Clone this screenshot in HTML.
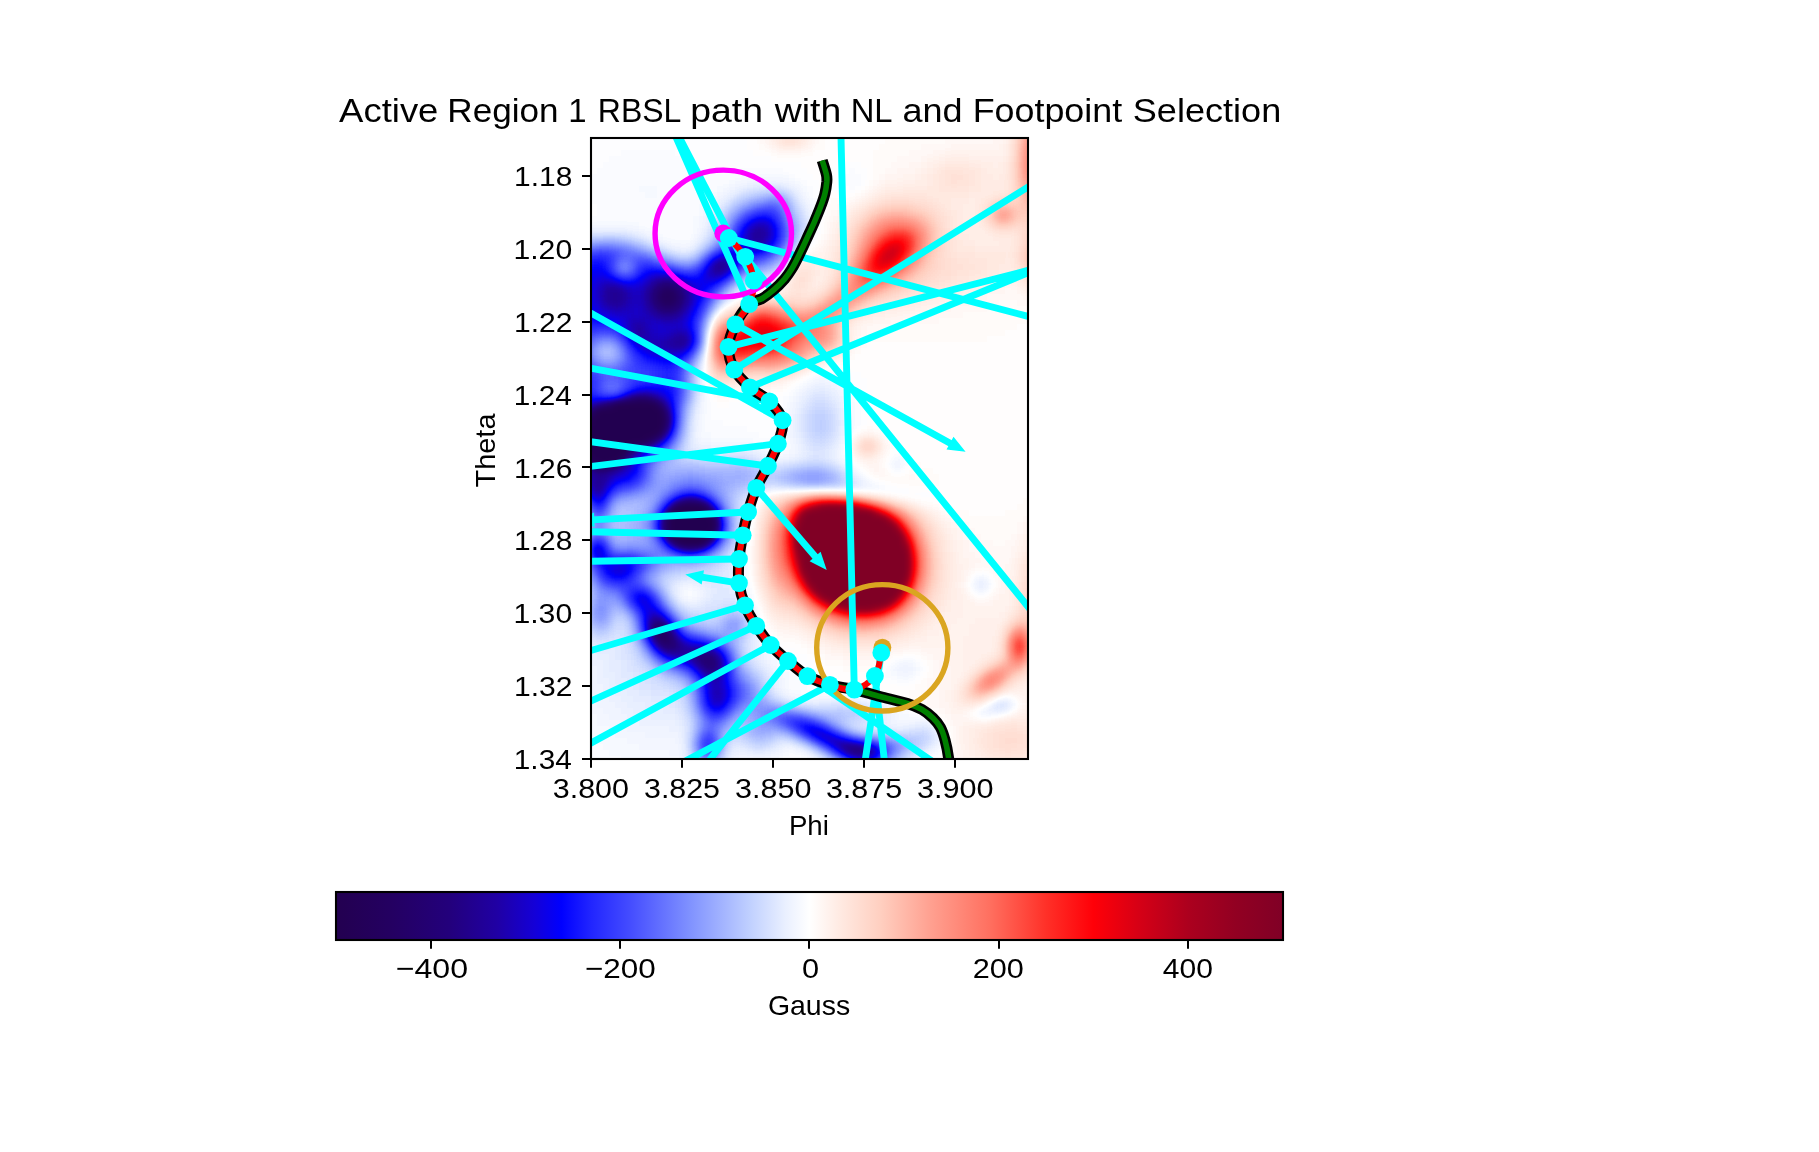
<!DOCTYPE html>
<html><head><meta charset="utf-8"><title>Active Region 1 RBSL path</title>
<style>html,body{margin:0;padding:0;background:#fff}svg{display:block;will-change:transform}text{font-family:"Liberation Sans",sans-serif;fill:#000}</style>
</head><body>
<svg width="1819" height="1152" viewBox="0 0 1819 1152">
<defs>
<clipPath id="ax"><rect x="591" y="138" width="437" height="621"/></clipPath>
<filter id="cm" filterUnits="userSpaceOnUse" x="579" y="126" width="462" height="648" color-interpolation-filters="sRGB">
<feGaussianBlur stdDeviation="3.2"/>
<feComponentTransfer>
<feFuncR type="table" tableValues="0.137 0.138 0.139 0.139 0.140 0.141 0.141 0.141 0.140 0.139 0.139 0.138 0.137 0.135 0.133 0.130 0.128 0.125 0.114 0.102 0.090 0.078 0.050 0.022 0.008 0.050 0.092 0.133 0.167 0.200 0.233 0.267 0.303 0.340 0.377 0.414 0.450 0.487 0.526 0.566 0.606 0.645 0.685 0.725 0.766 0.809 0.853 0.896 0.934 0.967 1.000 1.000 1.000 1.000 1.000 1.000 1.000 1.000 1.000 1.000 1.000 1.000 1.000 1.000 1.000 1.000 1.000 1.000 1.000 1.000 1.000 1.000 1.000 1.000 1.000 1.000 1.000 1.000 1.000 1.000 1.000 0.966 0.933 0.899 0.865 0.831 0.800 0.769 0.737 0.706 0.675 0.654 0.634 0.613 0.593 0.573 0.558 0.544 0.530 0.516 0.502"/>
<feFuncG type="table" tableValues="0.000 0.000 0.000 0.000 0.000 0.000 0.000 0.000 0.000 0.000 0.000 0.000 0.000 0.000 0.000 0.000 0.000 0.000 0.000 0.000 0.000 0.000 0.000 0.000 0.009 0.056 0.102 0.149 0.186 0.224 0.261 0.298 0.341 0.384 0.427 0.470 0.512 0.555 0.596 0.634 0.673 0.711 0.750 0.789 0.826 0.859 0.892 0.925 0.953 0.976 1.000 0.974 0.949 0.923 0.898 0.873 0.849 0.824 0.794 0.760 0.725 0.690 0.655 0.621 0.591 0.561 0.530 0.500 0.470 0.439 0.397 0.356 0.314 0.272 0.230 0.188 0.151 0.113 0.075 0.038 0.000 0.000 0.000 0.000 0.000 0.000 0.000 0.000 0.000 0.000 0.000 0.000 0.000 0.000 0.000 0.000 0.000 0.000 0.000 0.000 0.000"/>
<feFuncB type="table" tableValues="0.314 0.325 0.337 0.349 0.361 0.373 0.384 0.401 0.418 0.435 0.452 0.469 0.486 0.518 0.549 0.580 0.612 0.643 0.694 0.745 0.796 0.847 0.902 0.956 1.000 1.000 1.000 1.000 1.000 1.000 1.000 1.000 1.000 1.000 1.000 1.000 1.000 1.000 1.000 1.000 1.000 1.000 1.000 1.000 1.000 1.000 1.000 1.000 1.000 1.000 1.000 0.964 0.929 0.893 0.861 0.830 0.799 0.768 0.735 0.700 0.664 0.629 0.593 0.559 0.528 0.498 0.468 0.437 0.407 0.376 0.340 0.303 0.267 0.230 0.193 0.157 0.132 0.107 0.082 0.056 0.031 0.042 0.053 0.064 0.075 0.086 0.093 0.099 0.105 0.111 0.118 0.121 0.124 0.127 0.130 0.133 0.136 0.140 0.143 0.146 0.149"/>
<feFuncA type="linear" slope="100" intercept="0"/>
</feComponentTransfer>
</filter>
<linearGradient id="cb" x1="0" x2="1" y1="0" y2="0"><stop offset="0.0000" stop-color="#230050"/><stop offset="0.0600" stop-color="#240062"/><stop offset="0.1200" stop-color="#23007c"/><stop offset="0.1700" stop-color="#2000a4"/><stop offset="0.2100" stop-color="#1400d8"/><stop offset="0.2380" stop-color="#0000ff"/><stop offset="0.2700" stop-color="#2226ff"/><stop offset="0.3100" stop-color="#444cff"/><stop offset="0.3740" stop-color="#8092ff"/><stop offset="0.4370" stop-color="#c0d0ff"/><stop offset="0.4750" stop-color="#eaf0ff"/><stop offset="0.5000" stop-color="#ffffff"/><stop offset="0.5320" stop-color="#ffeae2"/><stop offset="0.5750" stop-color="#ffcfc0"/><stop offset="0.6280" stop-color="#ffa090"/><stop offset="0.6900" stop-color="#ff7060"/><stop offset="0.7500" stop-color="#ff3028"/><stop offset="0.8000" stop-color="#ff0008"/><stop offset="0.8500" stop-color="#d40016"/><stop offset="0.9000" stop-color="#ac001e"/><stop offset="0.9500" stop-color="#920022"/><stop offset="1.0000" stop-color="#800026"/></linearGradient>
</defs>
<rect width="1819" height="1152" fill="#fff"/>
<g clip-path="url(#ax)">
<g filter="url(#cm)">
<rect x="579" y="126" width="462" height="648" fill="rgb(128,128,128)"/>
<path fill="rgb(0,0,0)" d="M621 402h36v6h-36zM597 408h66v6h-66zM591 414h72v6h-72zM591 420h72v6h-72zM591 426h72v6h-72zM591 432h66v6h-66zM585 438h60v6h-60zM585 444h42v6h-42zM585 450h36v6h-36zM591 456h30v6h-30zM681 504h24v6h-24zM669 510h42v6h-42zM669 516h42v6h-42zM669 522h48v6h-48zM669 528h42v6h-42zM675 534h36v6h-36zM681 540h18v6h-18z"/>
<path fill="rgb(1,1,1)" d="M615 402h6v6h-6zM699 540h6v6h-6z"/>
<path fill="rgb(2,2,2)" d="M585 432h6v6h-6zM621 450h6v6h-6zM603 462h6v6h-6zM669 534h6v6h-6z"/>
<path fill="rgb(3,3,3)" d="M585 426h6v6h-6zM597 462h6v6h-6z"/>
<path fill="rgb(5,5,5)" d="M675 504h6v6h-6z"/>
<path fill="rgb(7,7,7)" d="M585 420h6v6h-6zM627 444h6v6h-6z"/>
<path fill="rgb(8,8,8)" d="M645 438h6v6h-6zM711 516h6v6h-6zM711 528h6v6h-6z"/>
<path fill="rgb(9,9,9)" d="M663 294h6v6h-6zM675 540h6v6h-6z"/>
<path fill="rgb(10,10,10)" d="M669 294h6v6h-6z"/>
<path fill="rgb(11,11,11)" d="M585 456h6v6h-6zM609 462h6v6h-6z"/>
<path fill="rgb(12,12,12)" d="M657 630h6v6h-6z"/>
<path fill="rgb(13,13,13)" d="M663 288h6v6h-6zM663 300h6v6h-6zM609 402h6v6h-6zM663 636h6v6h-6z"/>
<path fill="rgb(14,14,14)" d="M669 300h6v6h-6z"/>
<path fill="rgb(15,15,15)" d="M669 288h6v6h-6zM663 420h6v6h-6zM657 432h6v6h-6zM591 462h6v6h-6zM663 522h6v6h-6z"/>
<path fill="rgb(16,16,16)" d="M657 294h6v6h-6zM591 408h6v6h-6zM663 414h6v6h-6zM663 630h6v6h-6z"/>
<path fill="rgb(17,17,17)" d="M639 396h6v6h-6zM657 636h6v6h-6z"/>
<path fill="rgb(18,18,18)" d="M657 624h6v6h-6z"/>
<path fill="rgb(19,19,19)" d="M657 300h6v6h-6z"/>
<path fill="rgb(20,20,20)" d="M657 288h6v6h-6zM675 294h6v6h-6zM633 396h6v6h-6zM657 402h6v6h-6zM585 414h6v6h-6z"/>
<path fill="rgb(21,21,21)" d="M621 456h6v6h-6zM663 642h6v6h-6z"/>
<path fill="rgb(22,22,22)" d="M645 396h6v6h-6zM663 516h6v6h-6zM663 528h6v6h-6z"/>
<path fill="rgb(23,23,23)" d="M675 300h6v6h-6zM633 444h6v6h-6zM669 642h6v6h-6zM705 660h6v6h-6z"/>
<path fill="rgb(24,24,24)" d="M675 288h6v6h-6zM663 306h6v6h-6zM603 402h6v6h-6zM669 636h6v6h-6z"/>
<path fill="rgb(25,25,25)" d="M663 282h6v6h-6zM669 306h6v6h-6zM651 438h6v6h-6zM615 462h6v6h-6zM705 504h6v6h-6zM705 654h6v6h-6z"/>
<path fill="rgb(26,26,26)" d="M663 426h6v6h-6zM687 498h6v6h-6zM651 624h6v6h-6zM711 660h6v6h-6z"/>
<path fill="rgb(27,27,27)" d="M669 282h6v6h-6zM663 408h6v6h-6zM579 444h6v6h-6zM651 630h6v6h-6zM699 654h6v6h-6z"/>
<path fill="rgb(28,28,28)" d="M651 294h6v6h-6zM627 450h6v6h-6z"/>
<path fill="rgb(29,29,29)" d="M657 306h6v6h-6zM627 396h6v6h-6zM579 450h6v6h-6zM597 468h6v6h-6zM693 498h6v6h-6zM711 510h6v6h-6zM705 540h6v6h-6zM663 624h6v6h-6zM855 750h6v6h-6z"/>
<path fill="rgb(30,30,30)" d="M657 282h6v6h-6zM651 288h6v6h-6zM651 300h6v6h-6zM711 534h6v6h-6zM699 660h6v6h-6zM711 666h6v6h-6zM861 750h6v6h-6z"/>
<path fill="rgb(31,31,31)" d="M675 306h6v6h-6zM651 396h6v6h-6zM603 468h6v6h-6zM711 654h6v6h-6zM705 666h6v6h-6z"/>
<path fill="rgb(32,32,32)" d="M681 294h6v6h-6zM579 438h6v6h-6zM681 498h6v6h-6zM657 642h6v6h-6zM849 744h6v6h-6z"/>
<path fill="rgb(33,33,33)" d="M687 546h6v6h-6zM675 642h6v6h-6zM855 744h6v6h-6z"/>
<path fill="rgb(34,34,34)" d="M675 282h6v6h-6zM597 402h6v6h-6zM639 444h6v6h-6zM585 462h6v6h-6zM669 504h6v6h-6zM657 618h6v6h-6zM669 630h6v6h-6zM669 648h6v6h-6zM693 654h6v6h-6zM849 750h6v6h-6z"/>
<path fill="rgb(35,35,35)" d="M681 288h6v6h-6zM681 300h6v6h-6zM591 468h6v6h-6zM651 618h6v6h-6zM843 744h6v6h-6z"/>
<path fill="rgb(36,36,36)" d="M717 264h6v6h-6zM663 312h6v6h-6zM669 540h6v6h-6zM675 648h6v6h-6z"/>
<path fill="rgb(37,37,37)" d="M609 294h12v6h-12zM651 306h6v6h-6zM669 312h6v6h-6zM579 432h6v6h-6zM609 468h6v6h-6zM597 474h6v6h-6zM597 480h6v6h-6zM693 546h6v6h-6zM651 636h6v6h-6zM699 648h6v6h-6z"/>
<path fill="rgb(38,38,38)" d="M651 282h6v6h-6zM609 288h6v6h-6zM585 408h6v6h-6zM579 426h6v6h-6zM621 462h6v6h-6zM693 648h6v6h-6z"/>
<path fill="rgb(39,39,39)" d="M753 234h6v6h-6zM615 288h6v6h-6zM645 294h6v6h-6zM657 312h6v6h-6zM675 336h12v6h-12zM675 342h6v6h-6zM579 456h6v6h-6zM681 546h6v6h-6zM663 648h6v6h-6zM681 648h12v6h-12zM705 648h6v6h-6zM717 660h6v6h-6zM711 672h6v6h-6zM867 750h6v6h-6z"/>
<path fill="rgb(40,40,40)" d="M759 234h6v6h-6zM723 264h6v6h-6zM609 300h12v6h-12zM681 342h6v6h-6zM579 420h6v6h-6zM627 456h6v6h-6zM591 474h6v6h-6zM597 486h6v6h-6zM663 510h6v6h-6zM663 534h6v6h-6zM861 744h6v6h-6z"/>
<path fill="rgb(41,41,41)" d="M753 228h12v6h-12zM663 276h6v6h-6zM645 288h6v6h-6zM603 294h6v6h-6zM621 294h6v6h-6zM645 300h6v6h-6zM681 306h6v6h-6zM675 312h6v6h-6zM621 396h6v6h-6zM663 402h6v6h-6zM603 474h6v6h-6zM591 480h6v6h-6zM699 498h6v6h-6zM687 654h6v6h-6zM693 660h6v6h-6zM699 666h6v6h-6zM717 666h6v6h-6z"/>
<path fill="rgb(42,42,42)" d="M711 264h6v6h-6zM717 270h6v6h-6zM603 288h6v6h-6zM669 342h6v6h-6zM657 396h6v6h-6zM675 636h6v6h-6z"/>
<path fill="rgb(43,43,43)" d="M717 258h12v6h-12zM711 270h6v6h-6zM657 276h6v6h-6zM681 282h6v6h-6zM621 288h6v6h-6zM621 300h6v6h-6zM633 324h12v6h-12zM633 330h12v6h-12zM669 336h6v6h-6zM645 444h6v6h-6zM633 450h6v6h-6zM615 468h6v6h-6zM591 486h6v6h-6zM681 642h6v6h-6zM705 672h6v6h-6z"/>
<path fill="rgb(44,44,44)" d="M753 240h6v6h-6zM669 276h6v6h-6zM687 294h6v6h-6zM603 300h6v6h-6zM645 306h6v6h-6zM651 312h6v6h-6zM663 342h6v6h-6zM591 402h6v6h-6zM663 432h6v6h-6zM657 438h6v6h-6zM837 744h6v6h-6z"/>
<path fill="rgb(45,45,45)" d="M747 234h6v6h-6zM759 240h6v6h-6zM609 282h6v6h-6zM615 306h6v6h-6zM639 336h6v6h-6zM603 480h6v6h-6zM717 672h6v6h-6z"/>
<path fill="rgb(46,46,46)" d="M765 228h6v6h-6zM765 234h6v6h-6zM603 282h6v6h-6zM645 282h6v6h-6zM687 288h6v6h-6zM627 294h6v6h-6zM687 300h6v6h-6zM609 306h6v6h-6zM633 318h6v6h-6zM663 318h12v6h-12zM645 330h6v6h-6zM675 330h12v6h-12zM645 336h6v6h-6zM663 336h6v6h-6zM657 342h6v6h-6zM675 498h6v6h-6zM681 654h6v6h-6zM717 654h6v6h-6zM711 678h6v6h-6zM717 690h6v6h-6z"/>
<path fill="rgb(47,47,47)" d="M759 222h6v6h-6zM747 228h6v6h-6zM747 240h6v6h-6zM651 276h6v6h-6zM597 294h6v6h-6zM639 294h6v6h-6zM627 300h6v6h-6zM621 306h6v6h-6zM645 312h6v6h-6zM639 318h6v6h-6zM651 336h6v6h-6zM651 342h6v6h-6zM579 414h6v6h-6zM585 468h6v6h-6zM597 492h6v6h-6zM717 522h6v6h-6zM651 612h6v6h-6zM711 648h6v6h-6zM711 684h6v6h-6zM711 690h6v6h-6zM717 696h6v6h-6zM831 738h6v6h-6zM843 750h6v6h-6z"/>
<path fill="rgb(48,48,48)" d="M615 282h6v6h-6zM597 288h6v6h-6zM627 288h6v6h-6zM639 288h6v6h-6zM639 300h6v6h-6zM681 312h6v6h-6zM645 318h6v6h-6zM657 318h6v6h-6zM675 318h6v6h-6zM627 324h6v6h-6zM645 324h6v6h-6zM669 330h6v6h-6zM657 336h6v6h-6zM687 336h6v6h-6zM645 342h6v6h-6zM669 348h12v6h-12zM609 474h6v6h-6zM699 546h6v6h-6zM663 618h6v6h-6zM675 654h6v6h-6zM717 678h6v6h-6zM717 684h6v6h-6zM711 696h6v6h-6zM837 738h6v6h-6z"/>
<path fill="rgb(49,49,49)" d="M753 222h6v6h-6zM675 276h6v6h-6zM633 294h6v6h-6zM597 300h6v6h-6zM633 300h6v6h-6zM603 306h6v6h-6zM627 306h6v6h-6zM639 306h6v6h-6zM639 312h6v6h-6zM627 318h6v6h-6zM651 318h6v6h-6zM633 336h6v6h-6zM663 348h6v6h-6zM639 390h12v6h-12zM627 462h6v6h-6zM621 468h6v6h-6zM645 624h6v6h-6zM687 642h6v6h-6zM867 744h6v6h-6z"/>
<path fill="rgb(50,50,50)" d="M723 270h6v6h-6zM597 282h6v6h-6zM633 288h6v6h-6zM633 306h6v6h-6zM627 312h12v6h-12zM675 324h6v6h-6zM651 330h6v6h-6zM657 348h6v6h-6zM645 618h6v6h-6zM819 732h6v6h-6z"/>
<path fill="rgb(51,51,51)" d="M765 222h6v6h-6zM729 258h6v6h-6zM705 270h6v6h-6zM687 282h6v6h-6zM687 306h6v6h-6zM615 312h12v6h-12zM651 324h6v6h-6zM663 324h12v6h-12zM627 330h6v6h-6zM657 330h12v6h-12zM639 342h6v6h-6zM651 390h6v6h-6zM669 414h6v6h-6zM579 462h6v6h-6zM585 474h6v6h-6zM603 486h6v6h-6zM591 492h6v6h-6zM717 516h6v6h-6zM675 546h6v6h-6zM669 624h6v6h-6z"/>
<path fill="rgb(52,52,52)" d="M765 240h6v6h-6zM645 276h6v6h-6zM711 276h6v6h-6zM621 282h6v6h-6zM639 282h6v6h-6zM681 318h6v6h-6zM657 324h6v6h-6zM681 324h6v6h-6zM687 342h6v6h-6zM651 348h6v6h-6zM681 348h6v6h-6zM663 396h6v6h-6zM669 420h6v6h-6zM717 528h6v6h-6zM657 612h6v6h-6zM693 642h6v6h-6zM669 654h6v6h-6zM705 678h6v6h-6zM825 738h6v6h-6zM843 738h6v6h-6zM873 750h6v6h-6z"/>
<path fill="rgb(53,53,53)" d="M753 246h6v6h-6zM711 258h6v6h-6zM729 264h6v6h-6zM597 306h6v6h-6zM609 312h6v6h-6zM621 318h6v6h-6zM687 330h6v6h-6zM633 390h6v6h-6zM615 396h6v6h-6zM633 456h6v6h-6zM615 474h6v6h-6zM585 480h6v6h-6zM657 648h6v6h-6zM687 660h6v6h-6zM711 702h12v6h-12zM825 732h6v6h-6z"/>
<path fill="rgb(54,54,54)" d="M741 234h6v6h-6zM597 276h12v6h-12zM705 276h6v6h-6zM591 288h6v6h-6zM693 288h6v6h-6zM591 294h6v6h-6zM693 294h6v6h-6zM645 348h6v6h-6zM585 402h6v6h-6zM651 444h6v6h-6zM639 450h6v6h-6zM627 468h6v6h-6zM711 504h6v6h-6zM597 546h6v6h-6zM597 552h6v6h-6zM615 564h6v6h-6zM615 570h6v6h-6zM645 612h6v6h-6zM645 630h6v6h-6zM651 642h6v6h-6zM723 690h6v6h-6zM861 756h6v6h-6z"/>
<path fill="rgb(55,55,55)" d="M747 222h6v6h-6zM741 240h6v6h-6zM747 246h6v6h-6zM591 282h6v6h-6zM627 282h12v6h-12zM591 300h6v6h-6zM603 312h6v6h-6zM657 390h6v6h-6zM579 408h6v6h-6zM669 408h6v6h-6zM609 480h6v6h-6zM657 522h6v6h-6zM621 564h6v6h-6zM639 600h6v6h-6zM645 606h6v6h-6zM699 642h6v6h-6zM693 666h6v6h-6zM699 672h6v6h-6zM813 732h6v6h-6z"/>
<path fill="rgb(56,56,56)" d="M771 228h6v6h-6zM759 246h6v6h-6zM723 252h6v6h-6zM705 264h6v6h-6zM681 276h6v6h-6zM693 282h6v6h-6zM693 300h6v6h-6zM687 312h6v6h-6zM621 324h6v6h-6zM663 354h6v6h-6zM621 474h6v6h-6zM609 564h6v6h-6zM621 570h6v6h-6zM639 594h6v6h-6zM645 600h6v6h-6zM723 684h6v6h-6zM723 696h6v6h-6zM807 726h12v6h-12z"/>
<path fill="rgb(57,57,57)" d="M771 234h6v6h-6zM729 252h6v6h-6zM651 270h12v6h-12zM591 276h6v6h-6zM609 276h6v6h-6zM717 276h6v6h-6zM699 282h6v6h-6zM591 306h6v6h-6zM597 312h6v6h-6zM615 318h6v6h-6zM633 342h6v6h-6zM657 354h6v6h-6zM669 354h6v6h-6zM705 498h6v6h-6zM711 540h6v6h-6zM609 570h6v6h-6zM651 606h6v6h-6zM675 630h6v6h-6zM681 636h6v6h-6zM705 684h6v6h-6zM705 690h6v6h-6zM831 744h6v6h-6zM855 756h6v6h-6z"/>
<path fill="rgb(58,58,58)" d="M759 216h6v6h-6zM741 228h6v6h-6zM741 246h6v6h-6zM597 270h6v6h-6zM663 270h6v6h-6zM639 276h6v6h-6zM699 276h6v6h-6zM639 348h6v6h-6zM669 426h6v6h-6zM633 462h6v6h-6zM579 468h6v6h-6zM597 498h6v6h-6zM723 666h6v6h-6zM867 756h6v6h-6z"/>
<path fill="rgb(59,59,59)" d="M591 270h6v6h-6zM705 282h6v6h-6zM699 288h6v6h-6zM687 318h6v6h-6zM687 324h6v6h-6zM627 336h6v6h-6zM651 354h6v6h-6zM675 354h6v6h-6zM663 390h6v6h-6zM669 402h6v6h-6zM585 486h6v6h-6zM657 516h6v6h-6zM657 528h6v6h-6zM591 546h6v6h-6zM627 564h6v6h-6zM705 642h6v6h-6zM723 660h6v6h-6zM723 672h6v6h-6zM723 678h6v6h-6zM705 696h6v6h-6zM849 738h6v6h-6z"/>
<path fill="rgb(60,60,60)" d="M753 216h6v6h-6zM765 216h6v6h-6zM771 222h6v6h-6zM735 252h6v6h-6zM645 270h6v6h-6zM687 276h6v6h-6zM585 282h6v6h-6zM585 288h6v6h-6zM585 294h6v6h-6zM585 300h6v6h-6zM591 312h6v6h-6zM609 318h6v6h-6zM627 390h6v6h-6zM609 396h6v6h-6zM627 474h6v6h-6zM603 492h6v6h-6zM597 558h6v6h-6zM603 564h6v6h-6zM633 594h6v6h-6zM717 648h6v6h-6zM663 654h6v6h-6zM831 732h6v6h-6zM873 744h6v6h-6z"/>
<path fill="rgb(61,61,61)" d="M717 252h6v6h-6zM735 258h6v6h-6zM591 264h12v6h-12zM603 270h6v6h-6zM585 276h6v6h-6zM693 276h6v6h-6zM585 306h6v6h-6zM693 306h6v6h-6zM603 318h6v6h-6zM633 468h6v6h-6zM663 504h6v6h-6zM591 552h6v6h-6zM603 558h6v6h-6zM645 594h6v6h-6zM681 660h6v6h-6zM801 726h6v6h-6z"/>
<path fill="rgb(62,62,62)" d="M735 246h6v6h-6zM585 270h6v6h-6zM669 270h6v6h-6zM699 270h6v6h-6zM699 294h6v6h-6zM597 318h6v6h-6zM621 330h6v6h-6zM645 354h6v6h-6zM591 396h18v6h-18zM669 396h6v6h-6zM579 402h6v6h-6zM579 474h6v6h-6zM615 480h6v6h-6zM687 492h6v6h-6zM591 498h6v6h-6zM669 498h6v6h-6zM663 540h6v6h-6zM639 606h6v6h-6zM723 702h6v6h-6zM819 726h6v6h-6zM819 738h6v6h-6z"/>
<path fill="rgb(63,63,63)" d="M771 240h6v6h-6zM765 246h6v6h-6zM741 252h6v6h-6zM585 312h6v6h-6zM591 318h6v6h-6zM663 360h12v6h-12zM645 384h24v6h-24zM585 396h6v6h-6zM663 438h6v6h-6zM717 510h6v6h-6zM603 552h6v6h-6zM609 558h18v6h-18zM603 570h6v6h-6zM627 570h6v6h-6zM615 576h6v6h-6zM705 702h6v6h-6zM711 708h6v6h-6zM837 750h6v6h-6z"/>
<path fill="rgb(64,64,64)" d="M735 240h6v6h-6zM747 252h6v6h-6zM585 264h6v6h-6zM615 276h6v6h-6zM633 276h6v6h-6zM711 282h6v6h-6zM615 324h6v6h-6zM657 360h6v6h-6zM639 384h6v6h-6zM669 390h6v6h-6zM645 450h6v6h-6zM639 456h6v6h-6zM693 492h6v6h-6zM705 546h6v6h-6zM633 600h6v6h-6zM717 708h6v6h-6zM807 732h6v6h-6z"/>
<path fill="rgb(65,65,65)" d="M741 222h6v6h-6zM591 258h12v6h-12zM603 264h6v6h-6zM639 270h6v6h-6zM729 270h6v6h-6zM579 276h6v6h-6zM579 282h6v6h-6zM579 288h6v6h-6zM579 294h6v6h-6zM579 300h6v6h-6zM585 318h6v6h-6zM687 348h6v6h-6zM621 480h6v6h-6zM609 486h6v6h-6zM681 492h6v6h-6zM717 534h6v6h-6zM597 540h6v6h-6zM627 558h6v6h-6zM609 576h6v6h-6zM621 576h6v6h-6zM651 600h6v6h-6zM645 636h6v6h-6zM801 720h6v6h-6zM849 756h6v6h-6z"/>
<path fill="rgb(66,66,66)" d="M735 234h6v6h-6zM753 252h6v6h-6zM579 270h6v6h-6zM705 288h6v6h-6zM579 306h6v6h-6zM579 312h6v6h-6zM693 312h6v6h-6zM633 348h6v6h-6zM639 354h6v6h-6zM651 360h6v6h-6zM669 384h6v6h-6zM579 396h6v6h-6zM657 444h6v6h-6zM633 474h6v6h-6zM579 480h6v6h-6zM669 546h6v6h-6zM687 636h6v6h-6zM723 654h6v6h-6zM675 660h6v6h-6zM699 678h6v6h-6zM729 690h6v6h-6zM855 738h6v6h-6z"/>
<path fill="rgb(67,67,67)" d="M747 216h6v6h-6zM771 216h6v6h-6zM729 246h6v6h-6zM579 264h6v6h-6zM675 270h6v6h-6zM699 300h6v6h-6zM681 354h6v6h-6zM663 366h6v6h-6zM663 378h6v6h-6zM633 384h6v6h-6zM597 564h6v6h-6zM633 564h6v6h-6zM633 588h6v6h-6zM711 642h6v6h-6zM795 720h6v6h-6zM879 750h6v6h-6z"/>
<path fill="rgb(68,68,68)" d="M585 258h6v6h-6zM603 258h6v6h-6zM645 264h6v6h-6zM735 264h6v6h-6zM723 276h6v6h-6zM579 318h6v6h-6zM609 324h6v6h-6zM693 336h6v6h-6zM627 342h6v6h-6zM645 360h6v6h-6zM675 360h6v6h-6zM669 366h6v6h-6zM669 378h6v6h-6zM579 390h12v6h-12zM627 480h6v6h-6zM597 504h6v6h-6zM591 540h6v6h-6zM639 588h6v6h-6zM657 606h6v6h-6zM663 612h6v6h-6zM729 684h6v6h-6zM729 696h6v6h-6zM807 720h6v6h-6zM873 756h6v6h-6z"/>
<path fill="rgb(69,69,69)" d="M777 228h6v6h-6zM759 252h6v6h-6zM705 258h6v6h-6zM651 264h6v6h-6zM609 270h6v6h-6zM627 276h6v6h-6zM585 324h12v6h-12zM657 366h6v6h-6zM663 372h12v6h-12zM657 378h6v6h-6zM579 384h6v6h-6zM669 432h6v6h-6zM639 462h6v6h-6zM585 492h6v6h-6zM657 510h6v6h-6zM657 534h6v6h-6zM603 546h6v6h-6zM633 558h6v6h-6zM639 612h6v6h-6zM669 618h6v6h-6zM687 666h6v6h-6z"/>
<path fill="rgb(70,70,70)" d="M735 228h6v6h-6zM777 234h6v6h-6zM741 258h6v6h-6zM693 270h6v6h-6zM621 276h6v6h-6zM693 318h6v6h-6zM579 324h6v6h-6zM597 324h12v6h-12zM693 330h6v6h-6zM579 378h12v6h-12zM651 378h6v6h-6zM585 384h6v6h-6zM621 390h6v6h-6zM699 492h6v6h-6zM627 576h6v6h-6zM693 672h6v6h-6z"/>
<path fill="rgb(71,71,71)" d="M759 210h12v6h-12zM579 258h6v6h-6zM639 264h6v6h-6zM639 360h6v6h-6zM651 366h6v6h-6zM657 372h6v6h-6zM645 378h6v6h-6zM591 390h6v6h-6zM603 498h6v6h-6zM591 558h6v6h-6zM603 576h6v6h-6zM627 594h6v6h-6zM693 636h6v6h-6zM705 708h6v6h-6zM795 726h6v6h-6zM837 732h6v6h-6zM705 738h6v6h-6zM705 744h6v6h-6zM879 744h6v6h-6z"/>
<path fill="rgb(72,72,72)" d="M777 222h6v6h-6zM723 246h6v6h-6zM771 246h6v6h-6zM597 252h6v6h-6zM711 252h6v6h-6zM657 264h6v6h-6zM699 264h6v6h-6zM681 270h6v6h-6zM705 294h6v6h-6zM693 324h6v6h-6zM621 336h6v6h-6zM633 354h6v6h-6zM675 366h6v6h-6zM579 372h6v6h-6zM639 378h6v6h-6zM639 468h6v6h-6zM675 492h6v6h-6zM687 552h6v6h-6zM633 570h6v6h-6zM627 588h6v6h-6zM669 660h6v6h-6zM729 678h6v6h-6zM699 684h6v6h-6zM789 720h6v6h-6zM825 726h6v6h-6zM825 744h6v6h-6z"/>
<path fill="rgb(73,73,73)" d="M591 252h6v6h-6zM603 252h6v6h-6zM687 270h6v6h-6zM717 282h6v6h-6zM699 306h6v6h-6zM615 330h6v6h-6zM693 342h6v6h-6zM645 366h6v6h-6zM585 372h6v6h-6zM651 372h6v6h-6zM591 378h6v6h-6zM633 378h6v6h-6zM591 384h6v6h-6zM627 384h6v6h-6zM675 384h6v6h-6zM675 390h6v6h-6zM651 450h6v6h-6zM591 504h6v6h-6zM639 618h6v6h-6zM675 624h6v6h-6zM651 648h6v6h-6zM723 708h6v6h-6zM861 738h6v6h-6z"/>
<path fill="rgb(74,74,74)" d="M753 210h6v6h-6zM771 210h6v6h-6zM729 240h6v6h-6zM633 270h6v6h-6zM579 330h6v6h-6zM633 360h6v6h-6zM639 366h6v6h-6zM675 372h6v6h-6zM675 378h6v6h-6zM633 480h6v6h-6zM579 486h6v6h-6zM615 486h6v6h-6zM711 498h6v6h-6zM609 552h6v6h-6zM597 570h6v6h-6zM621 582h12v6h-12zM651 594h6v6h-6zM681 630h6v6h-6zM657 654h6v6h-6zM699 690h6v6h-6zM813 738h6v6h-6z"/>
<path fill="rgb(75,75,75)" d="M777 240h6v6h-6zM609 258h6v6h-6zM609 264h6v6h-6zM711 288h6v6h-6zM585 330h6v6h-6zM579 366h6v6h-6zM591 372h6v6h-6zM633 372h18v6h-18zM675 396h6v6h-6zM645 456h6v6h-6zM639 474h6v6h-6zM681 552h6v6h-6zM693 552h6v6h-6zM639 558h6v6h-6zM639 564h6v6h-6zM615 582h6v6h-6zM645 588h6v6h-6zM633 606h6v6h-6zM699 636h6v6h-6zM729 672h6v6h-6zM729 702h6v6h-6zM711 714h6v6h-6zM813 720h6v6h-6z"/>
<path fill="rgb(76,76,76)" d="M741 216h6v6h-6zM585 252h6v6h-6zM609 252h6v6h-6zM765 252h6v6h-6zM747 258h6v6h-6zM663 264h6v6h-6zM627 348h6v6h-6zM633 366h6v6h-6zM627 378h6v6h-6zM597 390h6v6h-6zM633 582h6v6h-6zM639 624h6v6h-6zM699 696h6v6h-6z"/>
<path fill="rgb(77,77,77)" d="M777 216h6v6h-6zM735 222h6v6h-6zM591 330h6v6h-6zM681 360h6v6h-6zM585 366h6v6h-6zM627 372h6v6h-6zM675 402h6v6h-6zM609 492h6v6h-6zM717 504h6v6h-6zM627 600h6v6h-6zM723 648h6v6h-6zM729 666h6v6h-6zM735 690h6v6h-6zM717 714h6v6h-6zM801 732h6v6h-6z"/>
<path fill="rgb(78,78,78)" d="M639 258h6v6h-6zM609 330h6v6h-6zM579 336h6v6h-6zM627 366h6v6h-6zM597 378h6v6h-6zM675 408h6v6h-6zM675 414h6v6h-6zM621 486h6v6h-6zM663 498h6v6h-6zM621 552h12v6h-12zM633 576h6v6h-6zM609 582h6v6h-6zM717 642h6v6h-6zM681 666h6v6h-6zM705 732h6v6h-6zM711 738h6v6h-6zM843 756h6v6h-6z"/>
<path fill="rgb(79,79,79)" d="M729 234h6v6h-6zM579 252h6v6h-6zM645 258h6v6h-6zM699 312h6v6h-6zM597 330h6v6h-6zM687 354h6v6h-6zM597 372h6v6h-6zM621 372h6v6h-6zM597 384h6v6h-6zM615 390h6v6h-6zM663 444h6v6h-6zM705 492h6v6h-6zM597 510h6v6h-6zM723 522h6v6h-6zM603 540h6v6h-6zM663 546h6v6h-6zM615 552h6v6h-6zM621 588h6v6h-6zM645 642h6v6h-6zM735 684h6v6h-6zM735 696h6v6h-6zM699 702h6v6h-6zM789 714h6v6h-6zM783 720h6v6h-6zM867 738h6v6h-6zM699 744h6v6h-6zM711 744h6v6h-6zM705 750h6v6h-6zM879 756h6v6h-6z"/>
<path fill="rgb(80,80,80)" d="M747 210h6v6h-6zM717 246h6v6h-6zM753 258h6v6h-6zM633 264h6v6h-6zM741 264h6v6h-6zM735 270h6v6h-6zM705 300h6v6h-6zM603 330h6v6h-6zM627 354h6v6h-6zM579 360h6v6h-6zM627 360h6v6h-6zM621 378h6v6h-6zM621 384h6v6h-6zM675 420h6v6h-6zM585 498h6v6h-6zM633 552h6v6h-6zM675 552h6v6h-6zM591 564h6v6h-6zM657 600h6v6h-6zM705 636h6v6h-6zM729 660h6v6h-6zM705 714h6v6h-6zM783 714h6v6h-6zM795 714h6v6h-6zM699 738h6v6h-6z"/>
<path fill="rgb(81,81,81)" d="M615 252h6v6h-6zM669 264h6v6h-6zM615 270h6v6h-6zM585 336h6v6h-6zM621 342h6v6h-6zM591 366h6v6h-6zM603 390h6v6h-6zM669 438h6v6h-6zM645 462h6v6h-6zM627 486h6v6h-6zM687 486h6v6h-6zM669 492h6v6h-6zM603 504h6v6h-6zM657 504h6v6h-6zM651 522h6v6h-6zM597 534h6v6h-6zM657 540h6v6h-6zM717 540h6v6h-6zM711 546h6v6h-6zM699 552h6v6h-6zM597 576h6v6h-6zM639 582h6v6h-6zM639 630h6v6h-6zM663 660h6v6h-6zM885 744h6v6h-6zM831 750h6v6h-6zM885 750h6v6h-6z"/>
<path fill="rgb(82,82,82)" d="M765 204h12v6h-12zM777 210h6v6h-6zM633 258h6v6h-6zM729 276h6v6h-6zM579 342h6v6h-6zM621 366h6v6h-6zM681 366h6v6h-6zM603 372h6v6h-6zM615 372h6v6h-6zM639 480h6v6h-6zM693 486h6v6h-6zM723 516h6v6h-6zM723 528h6v6h-6zM645 558h6v6h-6zM639 570h6v6h-6zM603 582h6v6h-6zM693 678h6v6h-6zM789 726h6v6h-6zM843 732h6v6h-6z"/>
<path fill="rgb(83,83,83)" d="M783 228h6v6h-6zM651 258h6v6h-6zM693 264h6v6h-6zM615 336h6v6h-6zM579 354h6v6h-6zM585 360h6v6h-6zM609 372h6v6h-6zM603 378h6v6h-6zM609 390h6v6h-6zM657 450h6v6h-6zM681 486h6v6h-6zM591 510h6v6h-6zM651 516h6v6h-6zM651 528h6v6h-6zM585 546h6v6h-6zM777 714h6v6h-6zM711 720h6v6h-6zM819 720h6v6h-6zM711 732h6v6h-6z"/>
<path fill="rgb(84,84,84)" d="M729 228h6v6h-6zM783 234h6v6h-6zM723 240h6v6h-6zM597 246h12v6h-12zM777 246h6v6h-6zM771 252h6v6h-6zM615 258h6v6h-6zM759 258h6v6h-6zM627 270h6v6h-6zM579 348h6v6h-6zM693 348h6v6h-6zM615 378h6v6h-6zM675 426h6v6h-6zM645 468h6v6h-6zM591 534h6v6h-6zM585 552h6v6h-6zM639 552h6v6h-6zM645 564h6v6h-6zM621 594h6v6h-6zM663 606h6v6h-6zM687 630h6v6h-6zM687 672h6v6h-6zM735 678h6v6h-6zM729 708h6v6h-6zM801 714h6v6h-6zM831 726h6v6h-6z"/>
<path fill="rgb(85,85,85)" d="M759 204h6v6h-6zM783 222h6v6h-6zM609 246h6v6h-6zM621 252h6v6h-6zM711 294h6v6h-6zM597 366h6v6h-6zM681 372h6v6h-6zM609 378h6v6h-6zM681 378h6v6h-6zM681 384h6v6h-6zM651 456h6v6h-6zM633 486h6v6h-6zM699 486h6v6h-6zM669 552h6v6h-6zM615 588h6v6h-6zM729 654h6v6h-6zM675 666h6v6h-6zM741 690h6v6h-6zM699 708h6v6h-6zM723 714h6v6h-6zM705 726h6v6h-6zM873 738h6v6h-6z"/>
<path fill="rgb(86,86,86)" d="M735 216h6v6h-6zM591 246h6v6h-6zM627 252h12v6h-12zM699 258h6v6h-6zM675 264h6v6h-6zM723 282h6v6h-6zM699 318h6v6h-6zM591 336h6v6h-6zM615 366h6v6h-6zM603 384h6v6h-6zM615 384h6v6h-6zM681 390h6v6h-6zM645 474h6v6h-6zM579 492h6v6h-6zM609 546h6v6h-6zM639 576h6v6h-6zM633 612h6v6h-6zM669 612h6v6h-6zM711 636h6v6h-6zM735 702h6v6h-6zM705 720h6v6h-6zM777 720h6v6h-6zM711 726h6v6h-6zM699 732h6v6h-6zM819 744h6v6h-6zM699 750h6v6h-6zM711 750h6v6h-6z"/>
<path fill="rgb(87,87,87)" d="M777 204h6v6h-6zM741 210h6v6h-6zM615 246h6v6h-6zM705 252h6v6h-6zM627 258h6v6h-6zM615 264h6v6h-6zM621 270h6v6h-6zM585 342h6v6h-6zM621 360h6v6h-6zM675 486h6v6h-6zM615 492h6v6h-6zM645 552h6v6h-6zM591 570h6v6h-6zM651 588h6v6h-6zM741 684h6v6h-6zM741 696h6v6h-6zM771 714h6v6h-6z"/>
<path fill="rgb(88,88,88)" d="M753 204h6v6h-6zM585 246h6v6h-6zM639 252h6v6h-6zM657 258h6v6h-6zM747 264h6v6h-6zM717 288h6v6h-6zM705 306h6v6h-6zM621 348h6v6h-6zM585 354h6v6h-6zM603 366h12v6h-12zM609 384h6v6h-6zM711 492h6v6h-6zM723 510h6v6h-6zM597 516h6v6h-6zM651 534h6v6h-6zM657 546h6v6h-6zM651 558h6v6h-6zM693 684h6v6h-6zM717 720h6v6h-6zM807 738h6v6h-6z"/>
<path fill="rgb(89,89,89)" d="M783 216h6v6h-6zM783 240h6v6h-6zM621 258h6v6h-6zM765 258h6v6h-6zM681 264h12v6h-12zM591 360h6v6h-6zM681 396h6v6h-6zM609 498h6v6h-6zM717 498h6v6h-6zM603 510h6v6h-6zM651 510h6v6h-6zM723 534h6v6h-6zM585 540h6v6h-6zM705 552h6v6h-6zM597 582h6v6h-6zM645 582h6v6h-6zM609 588h6v6h-6zM627 606h6v6h-6zM675 618h6v6h-6zM681 624h6v6h-6zM693 630h6v6h-6zM639 636h6v6h-6zM723 642h6v6h-6zM651 654h6v6h-6zM735 672h6v6h-6zM807 714h6v6h-6z"/>
<path fill="rgb(90,90,90)" d="M729 222h6v6h-6zM621 246h6v6h-6zM627 264h6v6h-6zM699 324h6v6h-6zM597 336h6v6h-6zM609 336h6v6h-6zM585 348h6v6h-6zM621 354h6v6h-6zM687 360h6v6h-6zM675 432h6v6h-6zM645 480h6v6h-6zM639 486h6v6h-6zM705 486h6v6h-6zM663 492h6v6h-6zM651 552h6v6h-6zM663 552h6v6h-6zM657 594h6v6h-6zM669 666h6v6h-6zM795 732h6v6h-6zM879 738h6v6h-6zM891 744h6v6h-6zM861 762h12v6h-12z"/>
<path fill="rgb(91,91,91)" d="M723 234h6v6h-6zM579 246h6v6h-6zM711 246h6v6h-6zM651 462h6v6h-6zM687 480h6v6h-6zM669 486h6v6h-6zM621 492h6v6h-6zM657 498h6v6h-6zM585 504h6v6h-6zM603 534h6v6h-6zM657 552h6v6h-6zM585 558h6v6h-6zM645 570h6v6h-6zM603 588h6v6h-6zM621 600h6v6h-6zM657 660h6v6h-6zM693 690h6v6h-6zM765 714h6v6h-6zM771 720h6v6h-6zM783 726h6v6h-6zM885 756h6v6h-6z"/>
<path fill="rgb(92,92,92)" d="M771 198h6v6h-6zM645 252h6v6h-6zM741 270h6v6h-6zM603 336h6v6h-6zM669 444h6v6h-6zM663 450h6v6h-6zM681 480h6v6h-6zM693 480h6v6h-6zM591 516h6v6h-6zM597 528h6v6h-6zM651 540h6v6h-6zM627 546h6v6h-6zM651 564h6v6h-6zM717 636h6v6h-6zM645 648h6v6h-6zM729 648h6v6h-6zM741 678h6v6h-6zM747 690h6v6h-6zM747 696h6v6h-6zM741 702h6v6h-6zM771 708h12v6h-12zM699 714h6v6h-6zM849 732h6v6h-6zM891 750h6v6h-6zM837 756h6v6h-6z"/>
<path fill="rgb(93,93,93)" d="M747 204h6v6h-6zM783 210h6v6h-6zM627 246h6v6h-6zM663 258h6v6h-6zM753 264h6v6h-6zM699 330h6v6h-6zM591 342h6v6h-6zM615 342h6v6h-6zM615 360h6v6h-6zM681 402h6v6h-6zM657 456h6v6h-6zM699 480h6v6h-6zM597 522h6v6h-6zM615 546h12v6h-12zM633 546h6v6h-6zM651 546h6v6h-6zM657 558h6v6h-6zM591 576h6v6h-6zM615 594h6v6h-6zM633 618h6v6h-6zM699 630h6v6h-6zM735 666h6v6h-6zM681 672h6v6h-6zM693 696h6v6h-6zM765 708h6v6h-6zM825 720h6v6h-6zM699 726h6v6h-6zM705 756h6v6h-6zM873 762h6v6h-6z"/>
<path fill="rgb(94,94,94)" d="M765 198h6v6h-6zM717 240h6v6h-6zM777 252h6v6h-6zM621 264h6v6h-6zM699 336h6v6h-6zM597 360h6v6h-6zM651 468h6v6h-6zM675 480h6v6h-6zM627 492h6v6h-6zM639 546h12v6h-12zM747 684h6v6h-6zM735 708h6v6h-6zM783 708h6v6h-6zM729 714h6v6h-6zM717 726h6v6h-6zM885 738h6v6h-6zM855 762h6v6h-6z"/>
<path fill="rgb(95,95,95)" d="M777 198h6v6h-6zM711 300h6v6h-6zM591 354h6v6h-6zM651 474h6v6h-6zM645 486h6v6h-6zM711 486h6v6h-6zM651 504h6v6h-6zM723 504h6v6h-6zM603 516h6v6h-6zM645 522h6v6h-6zM591 528h6v6h-6zM609 540h6v6h-6zM717 546h6v6h-6zM681 558h12v6h-12zM645 576h6v6h-6zM597 588h6v6h-6zM597 606h6v6h-6zM597 612h6v6h-6zM687 678h6v6h-6zM747 702h6v6h-6zM759 708h6v6h-6zM759 714h6v6h-6zM813 714h6v6h-6zM699 720h6v6h-6zM723 720h6v6h-6zM765 720h6v6h-6zM837 726h6v6h-6zM717 732h6v6h-6zM717 738h6v6h-6z"/>
<path fill="rgb(96,96,96)" d="M735 210h6v6h-6zM723 228h6v6h-6zM789 228h6v6h-6zM783 246h6v6h-6zM771 258h6v6h-6zM735 276h6v6h-6zM693 354h6v6h-6zM687 366h6v6h-6zM651 480h6v6h-6zM669 480h6v6h-6zM705 480h6v6h-6zM663 486h6v6h-6zM633 492h6v6h-6zM657 492h6v6h-6zM717 492h6v6h-6zM645 516h6v6h-6zM645 528h6v6h-6zM663 558h6v6h-6zM675 558h6v6h-6zM603 594h12v6h-12zM597 600h6v6h-6zM663 600h6v6h-6zM663 666h6v6h-6zM693 702h6v6h-6zM753 702h6v6h-6zM717 744h6v6h-6zM825 750h6v6h-6z"/>
<path fill="rgb(97,97,97)" d="M783 204h6v6h-6zM729 216h6v6h-6zM789 222h6v6h-6zM789 234h6v6h-6zM633 246h6v6h-6zM651 252h6v6h-6zM759 264h6v6h-6zM591 348h6v6h-6zM609 360h6v6h-6zM681 408h6v6h-6zM675 438h6v6h-6zM687 474h6v6h-6zM609 504h6v6h-6zM591 522h6v6h-6zM645 534h6v6h-6zM669 558h6v6h-6zM693 558h6v6h-6zM585 564h6v6h-6zM597 594h6v6h-6zM603 600h6v6h-6zM603 606h6v6h-6zM633 624h6v6h-6zM705 630h6v6h-6zM723 636h6v6h-6zM735 660h6v6h-6zM753 696h6v6h-6zM753 708h6v6h-6zM789 708h6v6h-6zM759 720h6v6h-6zM777 726h6v6h-6zM897 744h6v6h-6z"/>
<path fill="rgb(98,98,98)" d="M759 198h6v6h-6zM693 258h6v6h-6zM705 312h6v6h-6zM603 360h6v6h-6zM681 474h6v6h-6zM693 474h6v6h-6zM807 474h12v6h-12zM711 480h6v6h-6zM651 486h12v6h-12zM579 498h6v6h-6zM603 528h6v6h-6zM645 540h6v6h-6zM723 540h6v6h-6zM711 552h6v6h-6zM657 564h6v6h-6zM651 570h6v6h-6zM651 582h6v6h-6zM687 624h6v6h-6zM729 624h6v6h-6zM639 642h6v6h-6zM741 672h6v6h-6zM759 702h6v6h-6zM741 708h6v6h-6zM693 738h6v6h-6zM891 738h6v6h-6zM693 744h6v6h-6zM699 756h6v6h-6zM711 756h6v6h-6zM879 762h6v6h-6z"/>
<path fill="rgb(99,99,99)" d="M741 204h6v6h-6zM597 240h18v6h-18zM669 258h6v6h-6zM729 282h6v6h-6zM717 294h6v6h-6zM597 342h6v6h-6zM699 342h6v6h-6zM615 348h6v6h-6zM615 354h6v6h-6zM687 372h6v6h-6zM681 414h6v6h-6zM657 462h6v6h-6zM675 474h6v6h-6zM699 474h6v6h-6zM801 474h6v6h-6zM819 474h6v6h-6zM657 480h12v6h-12zM717 486h6v6h-6zM639 492h6v6h-6zM615 498h6v6h-6zM651 498h6v6h-6zM585 510h6v6h-6zM645 510h6v6h-6zM603 522h6v6h-6zM585 534h6v6h-6zM591 582h6v6h-6zM657 588h6v6h-6zM615 600h6v6h-6zM669 606h6v6h-6zM603 612h6v6h-6zM597 618h6v6h-6zM735 624h6v6h-6zM729 642h6v6h-6zM675 672h6v6h-6zM747 678h6v6h-6zM753 690h6v6h-6zM747 708h6v6h-6zM753 714h6v6h-6zM855 732h6v6h-6zM813 744h6v6h-6zM849 762h6v6h-6z"/>
<path fill="rgb(100,100,100)" d="M789 216h6v6h-6zM615 240h6v6h-6zM699 252h6v6h-6zM747 270h6v6h-6zM687 378h6v6h-6zM687 384h6v6h-6zM669 450h6v6h-6zM663 456h6v6h-6zM657 468h6v6h-6zM657 474h6v6h-6zM669 474h6v6h-6zM705 474h6v6h-6zM795 474h6v6h-6zM717 480h6v6h-6zM645 492h12v6h-12zM723 498h6v6h-6zM729 522h6v6h-6zM633 540h12v6h-12zM699 558h6v6h-6zM609 600h6v6h-6zM591 606h6v6h-6zM621 606h6v6h-6zM591 612h6v6h-6zM627 612h6v6h-6zM675 612h6v6h-6zM729 618h6v6h-6zM711 630h6v6h-6zM723 630h12v6h-12zM735 654h6v6h-6zM765 702h6v6h-6zM693 708h6v6h-6zM795 708h6v6h-6zM819 714h6v6h-6zM753 720h6v6h-6zM759 726h18v6h-18zM789 732h6v6h-6zM801 738h6v6h-6z"/>
<path fill="rgb(101,101,101)" d="M753 198h6v6h-6zM723 222h6v6h-6zM591 240h6v6h-6zM789 240h6v6h-6zM639 246h6v6h-6zM765 264h6v6h-6zM723 288h6v6h-6zM609 342h6v6h-6zM687 390h6v6h-6zM681 420h6v6h-6zM663 474h6v6h-6zM711 474h6v6h-6zM729 516h6v6h-6zM639 522h6v6h-6zM639 528h6v6h-6zM729 528h6v6h-6zM609 534h6v6h-6zM639 534h6v6h-6zM627 540h6v6h-6zM585 570h6v6h-6zM681 618h6v6h-6zM735 618h6v6h-6zM723 624h6v6h-6zM633 630h6v6h-6zM717 630h6v6h-6zM651 660h6v6h-6zM687 684h6v6h-6zM753 684h6v6h-6zM735 714h6v6h-6zM831 720h6v6h-6z"/>
<path fill="rgb(102,102,102)" d="M783 198h6v6h-6zM717 234h6v6h-6zM585 240h6v6h-6zM621 240h6v6h-6zM705 246h6v6h-6zM603 342h6v6h-6zM597 354h6v6h-6zM717 474h6v6h-6zM825 474h6v6h-6zM723 480h6v6h-6zM807 480h12v6h-12zM723 492h6v6h-6zM621 498h6v6h-6zM645 504h6v6h-6zM609 510h6v6h-6zM639 516h6v6h-6zM615 540h12v6h-12zM663 564h6v6h-6zM651 576h6v6h-6zM591 600h6v6h-6zM603 618h6v6h-6zM693 624h6v6h-6zM729 636h6v6h-6zM645 654h6v6h-6zM759 696h6v6h-6zM747 714h6v6h-6zM729 720h6v6h-6zM723 726h6v6h-6zM753 726h6v6h-6zM693 732h6v6h-6zM897 738h6v6h-6zM693 750h6v6h-6zM717 750h6v6h-6zM897 750h6v6h-6zM891 756h6v6h-6z"/>
<path fill="rgb(103,103,103)" d="M711 240h6v6h-6zM657 252h6v6h-6zM675 258h6v6h-6zM777 258h6v6h-6zM681 426h6v6h-6zM675 444h6v6h-6zM663 468h6v6h-6zM675 468h24v6h-24zM807 468h12v6h-12zM723 474h24v6h-24zM789 474h6v6h-6zM729 480h6v6h-6zM801 480h6v6h-6zM819 480h6v6h-6zM723 486h6v6h-6zM627 498h6v6h-6zM645 498h6v6h-6zM729 510h6v6h-6zM633 528h6v6h-6zM633 534h6v6h-6zM591 588h6v6h-6zM591 594h6v6h-6zM609 606h6v6h-6zM591 618h6v6h-6zM735 630h6v6h-6zM657 666h6v6h-6zM669 672h6v6h-6zM681 678h6v6h-6zM771 702h6v6h-6zM741 714h6v6h-6zM903 744h6v6h-6z"/>
<path fill="rgb(104,104,104)" d="M747 198h6v6h-6zM729 210h6v6h-6zM789 210h6v6h-6zM579 240h6v6h-6zM783 252h6v6h-6zM687 258h6v6h-6zM753 270h6v6h-6zM597 348h6v6h-6zM687 396h6v6h-6zM663 462h6v6h-6zM669 468h6v6h-6zM699 468h6v6h-6zM735 468h6v6h-6zM801 468h6v6h-6zM819 468h6v6h-6zM735 480h6v6h-6zM633 498h12v6h-12zM639 510h6v6h-6zM609 516h6v6h-6zM633 522h6v6h-6zM627 534h6v6h-6zM705 558h6v6h-6zM657 570h6v6h-6zM663 594h6v6h-6zM723 618h6v6h-6zM741 666h6v6h-6zM687 690h6v6h-6zM801 708h6v6h-6zM693 714h6v6h-6zM825 714h6v6h-6zM747 720h6v6h-6zM843 726h6v6h-6zM753 732h12v6h-12zM861 732h6v6h-6zM831 756h6v6h-6zM885 762h6v6h-6z"/>
<path fill="rgb(105,105,105)" d="M771 192h6v6h-6zM735 204h6v6h-6zM627 240h6v6h-6zM645 246h6v6h-6zM681 258h6v6h-6zM741 276h6v6h-6zM609 354h6v6h-6zM693 360h6v6h-6zM669 456h6v6h-6zM705 468h30v6h-30zM741 468h6v6h-6zM747 474h6v6h-6zM831 474h6v6h-6zM741 480h6v6h-6zM795 480h6v6h-6zM825 480h6v6h-6zM729 486h6v6h-6zM615 504h6v6h-6zM639 504h6v6h-6zM585 516h6v6h-6zM633 516h6v6h-6zM627 522h6v6h-6zM609 528h6v6h-6zM627 528h6v6h-6zM621 534h6v6h-6zM729 534h6v6h-6zM717 552h6v6h-6zM669 564h6v6h-6zM585 576h6v6h-6zM615 606h6v6h-6zM597 624h6v6h-6zM699 624h6v6h-6zM639 648h6v6h-6zM735 648h6v6h-6zM747 672h6v6h-6zM693 726h6v6h-6zM747 726h6v6h-6zM765 732h6v6h-6z"/>
<path fill="rgb(106,106,106)" d="M777 192h6v6h-6zM723 216h6v6h-6zM717 228h6v6h-6zM771 264h6v6h-6zM711 306h6v6h-6zM609 348h6v6h-6zM699 348h6v6h-6zM603 354h6v6h-6zM681 432h6v6h-6zM669 462h6v6h-6zM747 468h6v6h-6zM795 468h6v6h-6zM783 474h6v6h-6zM729 504h6v6h-6zM633 510h6v6h-6zM609 522h6v6h-6zM621 528h6v6h-6zM615 534h6v6h-6zM723 546h6v6h-6zM675 564h6v6h-6zM657 582h6v6h-6zM609 612h6v6h-6zM717 624h6v6h-6zM633 636h6v6h-6zM753 678h6v6h-6zM759 690h6v6h-6zM687 696h6v6h-6zM777 702h6v6h-6zM693 720h6v6h-6zM735 720h12v6h-12zM867 732h6v6h-6zM903 738h6v6h-6zM843 762h6v6h-6z"/>
<path fill="rgb(107,107,107)" d="M765 192h6v6h-6zM789 204h6v6h-6zM795 222h6v6h-6zM795 228h6v6h-6zM789 246h6v6h-6zM705 318h6v6h-6zM675 462h6v6h-6zM825 468h6v6h-6zM753 474h6v6h-6zM747 480h6v6h-6zM789 480h6v6h-6zM831 480h6v6h-6zM729 492h6v6h-6zM729 498h6v6h-6zM627 504h12v6h-12zM627 516h6v6h-6zM621 522h6v6h-6zM585 528h6v6h-6zM615 528h6v6h-6zM579 546h6v6h-6zM579 552h6v6h-6zM681 564h12v6h-12zM729 612h6v6h-6zM627 618h6v6h-6zM687 618h6v6h-6zM603 624h6v6h-6zM705 624h12v6h-12zM741 624h6v6h-6zM735 636h6v6h-6zM735 642h6v6h-6zM663 672h6v6h-6zM807 708h6v6h-6zM831 714h6v6h-6zM837 720h6v6h-6zM723 732h6v6h-6zM747 732h6v6h-6zM783 732h6v6h-6zM705 762h6v6h-6z"/>
<path fill="rgb(108,108,108)" d="M741 198h6v6h-6zM663 252h6v6h-6zM759 270h6v6h-6zM603 348h6v6h-6zM687 402h6v6h-6zM675 450h6v6h-6zM681 462h12v6h-12zM753 468h6v6h-6zM789 468h6v6h-6zM777 474h6v6h-6zM735 486h6v6h-6zM579 504h6v6h-6zM621 504h6v6h-6zM615 510h6v6h-6zM627 510h6v6h-6zM615 516h12v6h-12zM615 522h6v6h-6zM711 558h6v6h-6zM693 564h6v6h-6zM663 570h6v6h-6zM657 576h6v6h-6zM669 600h6v6h-6zM735 612h6v6h-6zM741 618h6v6h-6zM591 624h6v6h-6zM741 660h6v6h-6zM675 678h6v6h-6zM765 696h6v6h-6zM687 702h6v6h-6zM837 714h6v6h-6zM729 726h6v6h-6zM741 726h6v6h-6zM771 732h6v6h-6zM873 732h6v6h-6zM909 738h6v6h-6zM909 744h6v6h-6zM819 750h6v6h-6z"/>
<path fill="rgb(109,109,109)" d="M759 192h6v6h-6zM795 216h6v6h-6zM795 234h6v6h-6zM633 240h6v6h-6zM735 282h6v6h-6zM675 456h6v6h-6zM693 462h12v6h-12zM729 462h18v6h-18zM759 474h6v6h-6zM753 480h6v6h-6zM783 480h6v6h-6zM621 510h6v6h-6zM585 522h6v6h-6zM729 540h6v6h-6zM579 558h6v6h-6zM585 582h6v6h-6zM621 612h6v6h-6zM681 612h6v6h-6zM723 612h6v6h-6zM609 618h6v6h-6zM717 618h6v6h-6zM741 630h6v6h-6zM645 660h6v6h-6zM651 666h6v6h-6zM681 684h6v6h-6zM759 684h6v6h-6zM777 732h6v6h-6zM879 732h6v6h-6zM723 738h6v6h-6zM759 738h6v6h-6zM795 738h6v6h-6zM903 750h6v6h-6zM693 756h6v6h-6zM717 756h6v6h-6z"/>
<path fill="rgb(110,110,110)" d="M783 192h6v6h-6zM717 222h6v6h-6zM711 234h6v6h-6zM651 246h6v6h-6zM693 252h6v6h-6zM747 276h6v6h-6zM717 300h6v6h-6zM693 366h6v6h-6zM681 438h6v6h-6zM705 462h24v6h-24zM747 462h6v6h-6zM759 468h6v6h-6zM783 468h6v6h-6zM831 468h6v6h-6zM765 474h12v6h-12zM837 474h6v6h-6zM837 480h6v6h-6zM741 486h6v6h-6zM579 540h6v6h-6zM699 564h6v6h-6zM663 588h6v6h-6zM585 606h6v6h-6zM675 606h6v6h-6zM585 612h6v6h-6zM615 612h6v6h-6zM693 618h6v6h-6zM627 624h6v6h-6zM597 630h6v6h-6zM633 642h6v6h-6zM639 654h6v6h-6zM747 666h6v6h-6zM753 672h6v6h-6zM783 702h6v6h-6zM687 708h6v6h-6zM813 708h6v6h-6zM837 708h6v6h-6zM843 714h6v6h-6zM735 726h6v6h-6zM885 732h6v6h-6zM753 738h6v6h-6zM915 738h6v6h-6zM807 744h6v6h-6zM897 756h6v6h-6zM699 762h6v6h-6zM711 762h6v6h-6z"/>
<path fill="rgb(111,111,111)" d="M753 192h6v6h-6zM789 198h6v6h-6zM729 204h6v6h-6zM723 210h6v6h-6zM765 270h6v6h-6zM729 288h6v6h-6zM723 294h6v6h-6zM687 408h6v6h-6zM819 420h6v6h-6zM819 426h6v6h-6zM759 480h6v6h-6zM777 480h6v6h-6zM735 492h6v6h-6zM579 564h6v6h-6zM705 564h6v6h-6zM669 570h6v6h-6zM585 588h6v6h-6zM585 600h6v6h-6zM699 618h6v6h-6zM741 654h6v6h-6zM657 672h6v6h-6zM669 678h6v6h-6zM819 708h18v6h-18zM843 708h12v6h-12zM849 714h6v6h-6zM843 720h6v6h-6zM849 726h6v6h-6zM741 732h6v6h-6zM765 738h6v6h-6zM723 744h6v6h-6zM891 762h6v6h-6z"/>
<path fill="rgb(112,112,112)" d="M735 198h6v6h-6zM795 210h6v6h-6zM603 234h12v6h-12zM639 240h6v6h-6zM705 240h6v6h-6zM795 240h6v6h-6zM699 246h6v6h-6zM669 252h6v6h-6zM783 258h6v6h-6zM777 264h6v6h-6zM693 372h6v6h-6zM813 414h12v6h-12zM813 420h6v6h-6zM813 426h6v6h-6zM681 456h6v6h-6zM753 462h6v6h-6zM807 462h18v6h-18zM765 468h18v6h-18zM747 486h6v6h-6zM735 516h6v6h-6zM735 522h6v6h-6zM723 552h6v6h-6zM717 558h6v6h-6zM579 570h6v6h-6zM675 570h6v6h-6zM585 594h6v6h-6zM741 612h6v6h-6zM585 618h6v6h-6zM705 618h12v6h-12zM609 624h6v6h-6zM603 630h6v6h-6zM627 630h6v6h-6zM759 678h6v6h-6zM681 690h6v6h-6zM765 690h6v6h-6zM855 708h6v6h-6zM855 714h6v6h-6zM729 732h6v6h-6zM891 732h6v6h-6zM747 738h6v6h-6zM915 744h6v6h-6z"/>
<path fill="rgb(113,113,113)" d="M747 192h6v6h-6zM717 216h6v6h-6zM591 234h12v6h-12zM615 234h6v6h-6zM693 378h6v6h-6zM693 384h6v6h-6zM813 408h12v6h-12zM687 414h6v6h-6zM825 414h6v6h-6zM825 420h6v6h-6zM825 426h6v6h-6zM813 432h12v6h-12zM681 444h6v6h-6zM681 450h6v6h-6zM687 456h6v6h-6zM801 462h6v6h-6zM765 480h12v6h-12zM843 480h6v6h-6zM735 498h6v6h-6zM735 504h6v6h-6zM735 510h6v6h-6zM735 528h6v6h-6zM729 546h6v6h-6zM681 570h6v6h-6zM663 576h6v6h-6zM663 582h6v6h-6zM729 606h6v6h-6zM687 612h6v6h-6zM717 612h6v6h-6zM621 618h6v6h-6zM591 630h6v6h-6zM741 636h6v6h-6zM633 648h6v6h-6zM741 648h6v6h-6zM645 666h6v6h-6zM663 678h6v6h-6zM675 684h6v6h-6zM681 696h6v6h-6zM771 696h6v6h-6zM789 702h6v6h-6zM687 714h6v6h-6zM735 732h6v6h-6zM897 732h30v6h-30zM687 738h6v6h-6zM921 738h6v6h-6zM687 744h6v6h-6zM825 756h6v6h-6zM837 762h6v6h-6zM867 768h12v6h-12z"/>
<path fill="rgb(114,114,114)" d="M711 228h6v6h-6zM621 234h6v6h-6zM789 252h6v6h-6zM771 270h6v6h-6zM753 276h6v6h-6zM705 324h6v6h-6zM699 354h6v6h-6zM693 390h6v6h-6zM825 408h6v6h-6zM807 414h6v6h-6zM807 420h6v6h-6zM807 426h6v6h-6zM825 432h6v6h-6zM819 438h6v6h-6zM693 456h6v6h-6zM729 456h18v6h-18zM795 462h6v6h-6zM825 462h6v6h-6zM837 468h6v6h-6zM843 474h6v6h-6zM741 492h6v6h-6zM579 510h6v6h-6zM735 534h6v6h-6zM711 564h6v6h-6zM687 570h12v6h-12zM579 576h6v6h-6zM723 606h6v6h-6zM735 606h6v6h-6zM693 612h6v6h-6zM711 612h6v6h-6zM615 618h6v6h-6zM627 636h6v6h-6zM741 642h6v6h-6zM639 660h6v6h-6zM747 660h6v6h-6zM651 672h6v6h-6zM861 708h6v6h-6zM861 714h6v6h-6zM849 720h6v6h-6zM687 732h6v6h-6zM741 738h6v6h-6zM771 738h6v6h-6zM909 750h6v6h-6zM861 768h6v6h-6zM879 768h6v6h-6z"/>
<path fill="rgb(115,115,115)" d="M771 186h6v6h-6zM741 192h6v6h-6zM795 204h6v6h-6zM801 222h6v6h-6zM585 234h6v6h-6zM657 246h6v6h-6zM675 252h6v6h-6zM687 252h6v6h-6zM741 282h6v6h-6zM693 396h6v6h-6zM813 402h12v6h-12zM807 408h6v6h-6zM687 420h6v6h-6zM807 432h6v6h-6zM813 438h6v6h-6zM699 456h30v6h-30zM759 462h6v6h-6zM753 486h6v6h-6zM579 534h6v6h-6zM723 558h6v6h-6zM699 570h12v6h-12zM669 576h6v6h-6zM669 594h6v6h-6zM681 606h6v6h-6zM699 612h12v6h-12zM585 624h6v6h-6zM621 624h6v6h-6zM747 624h6v6h-6zM609 630h6v6h-6zM597 636h6v6h-6zM627 642h6v6h-6zM633 654h6v6h-6zM753 666h6v6h-6zM759 672h6v6h-6zM657 678h6v6h-6zM669 684h6v6h-6zM765 684h6v6h-6zM675 690h6v6h-6zM681 702h6v6h-6zM687 720h6v6h-6zM687 726h6v6h-6zM855 726h6v6h-6zM789 738h6v6h-6zM753 744h12v6h-12zM687 750h6v6h-6zM723 750h6v6h-6zM885 768h6v6h-6z"/>
<path fill="rgb(116,116,116)" d="M765 186h6v6h-6zM777 186h6v6h-6zM789 192h6v6h-6zM729 198h6v6h-6zM723 204h6v6h-6zM801 216h6v6h-6zM711 222h6v6h-6zM801 228h6v6h-6zM579 234h6v6h-6zM627 234h6v6h-6zM645 240h6v6h-6zM759 276h6v6h-6zM825 402h6v6h-6zM831 414h6v6h-6zM831 420h6v6h-6zM687 426h6v6h-6zM831 426h6v6h-6zM807 438h6v6h-6zM825 438h6v6h-6zM747 456h6v6h-6zM789 462h6v6h-6zM849 480h6v6h-6zM735 540h6v6h-6zM729 552h6v6h-6zM717 564h6v6h-6zM711 570h6v6h-6zM579 582h6v6h-6zM717 606h6v6h-6zM747 618h6v6h-6zM615 624h6v6h-6zM621 630h6v6h-6zM747 630h6v6h-6zM603 636h6v6h-6zM627 648h6v6h-6zM633 660h6v6h-6zM639 666h6v6h-6zM645 672h6v6h-6zM651 678h6v6h-6zM663 684h6v6h-6zM795 702h6v6h-6zM999 702h6v6h-6zM681 708h6v6h-6zM867 708h6v6h-6zM867 714h6v6h-6zM855 720h6v6h-6zM927 732h6v6h-6zM729 738h6v6h-6zM927 738h6v6h-6zM921 744h6v6h-6zM813 750h6v6h-6zM903 756h6v6h-6zM693 762h6v6h-6zM717 762h6v6h-6zM897 762h6v6h-6zM855 768h6v6h-6z"/>
<path fill="rgb(117,117,117)" d="M759 186h6v6h-6zM717 210h6v6h-6zM705 234h6v6h-6zM801 234h6v6h-6zM795 246h6v6h-6zM681 252h6v6h-6zM813 396h12v6h-12zM807 402h6v6h-6zM831 408h6v6h-6zM801 414h6v6h-6zM801 420h6v6h-6zM801 426h6v6h-6zM687 432h6v6h-6zM831 432h6v6h-6zM813 444h12v6h-12zM687 450h6v6h-6zM753 456h6v6h-6zM813 456h6v6h-6zM765 462h6v6h-6zM783 462h6v6h-6zM831 462h6v6h-6zM747 492h6v6h-6zM741 498h6v6h-6zM579 516h6v6h-6zM675 576h6v6h-6zM675 600h6v6h-6zM723 600h12v6h-12zM705 606h12v6h-12zM741 606h6v6h-6zM615 630h6v6h-6zM591 636h6v6h-6zM609 636h6v6h-6zM621 636h6v6h-6zM627 654h6v6h-6zM747 654h6v6h-6zM633 666h6v6h-6zM639 672h6v6h-6zM645 678h6v6h-6zM765 678h6v6h-6zM651 684h12v6h-12zM669 690h6v6h-6zM675 696h6v6h-6zM777 696h6v6h-6zM801 702h6v6h-6zM831 702h24v6h-24zM861 720h6v6h-6zM861 726h6v6h-6zM921 726h6v6h-6zM735 738h6v6h-6zM777 738h12v6h-12zM747 744h6v6h-6zM765 744h6v6h-6zM801 744h6v6h-6zM705 768h6v6h-6z"/>
<path fill="rgb(118,118,118)" d="M753 186h6v6h-6zM783 186h6v6h-6zM735 192h6v6h-6zM795 198h6v6h-6zM801 210h6v6h-6zM633 234h6v6h-6zM699 240h6v6h-6zM663 246h6v6h-6zM693 246h6v6h-6zM765 276h6v6h-6zM747 282h6v6h-6zM735 288h6v6h-6zM711 312h6v6h-6zM807 396h6v6h-6zM825 396h6v6h-6zM693 402h6v6h-6zM831 402h6v6h-6zM801 408h6v6h-6zM801 432h6v6h-6zM687 438h6v6h-6zM831 438h6v6h-6zM687 444h6v6h-6zM807 444h6v6h-6zM825 444h6v6h-6zM693 450h6v6h-6zM813 450h12v6h-12zM807 456h6v6h-6zM819 456h6v6h-6zM771 462h12v6h-12zM843 468h6v6h-6zM759 486h6v6h-6zM741 504h6v6h-6zM579 528h6v6h-6zM735 546h6v6h-6zM729 558h6v6h-6zM723 564h6v6h-6zM717 570h6v6h-6zM681 576h6v6h-6zM699 576h18v6h-18zM669 582h6v6h-6zM579 588h6v6h-6zM669 588h6v6h-6zM711 600h12v6h-12zM735 600h6v6h-6zM687 606h18v6h-18zM747 612h6v6h-6zM585 630h6v6h-6zM615 636h6v6h-6zM747 636h6v6h-6zM603 642h6v6h-6zM621 642h6v6h-6zM747 642h6v6h-6zM621 648h6v6h-6zM747 648h6v6h-6zM621 654h6v6h-6zM627 660h6v6h-6zM753 660h6v6h-6zM627 666h6v6h-6zM759 666h6v6h-6zM633 672h6v6h-6zM633 678h12v6h-12zM639 684h12v6h-12zM651 690h18v6h-18zM771 690h6v6h-6zM669 696h6v6h-6zM675 702h6v6h-6zM807 702h6v6h-6zM819 702h12v6h-12zM855 702h6v6h-6zM873 708h6v6h-6zM681 714h6v6h-6zM873 714h6v6h-6zM867 726h6v6h-6zM915 726h6v6h-6zM915 750h6v6h-6zM687 756h6v6h-6zM723 756h6v6h-6zM699 768h6v6h-6zM891 768h6v6h-6z"/>
<path fill="rgb(119,119,119)" d="M747 186h6v6h-6zM711 216h6v6h-6zM705 228h6v6h-6zM651 240h6v6h-6zM783 264h6v6h-6zM777 270h6v6h-6zM699 360h6v6h-6zM813 390h12v6h-12zM801 402h6v6h-6zM837 420h6v6h-6zM801 438h6v6h-6zM699 450h12v6h-12zM723 450h24v6h-24zM807 450h6v6h-6zM801 456h6v6h-6zM825 456h6v6h-6zM849 474h6v6h-6zM855 480h6v6h-6zM795 486h24v6h-24zM741 510h6v6h-6zM741 516h6v6h-6zM579 522h6v6h-6zM741 522h6v6h-6zM723 570h6v6h-6zM687 576h12v6h-12zM717 576h12v6h-12zM711 582h12v6h-12zM717 588h12v6h-12zM579 594h6v6h-6zM711 594h24v6h-24zM579 600h6v6h-6zM705 600h6v6h-6zM579 606h6v6h-6zM579 612h6v6h-6zM579 618h6v6h-6zM597 642h6v6h-6zM609 642h12v6h-12zM615 648h6v6h-6zM615 654h6v6h-6zM621 660h6v6h-6zM621 666h6v6h-6zM621 672h12v6h-12zM765 672h6v6h-6zM627 678h6v6h-6zM633 684h6v6h-6zM639 690h12v6h-12zM651 696h18v6h-18zM669 702h6v6h-6zM813 702h6v6h-6zM861 702h6v6h-6zM993 702h6v6h-6zM1005 702h6v6h-6zM675 708h6v6h-6zM681 720h6v6h-6zM867 720h6v6h-6zM873 726h6v6h-6zM909 726h6v6h-6zM927 726h6v6h-6zM729 744h6v6h-6zM741 744h6v6h-6zM771 744h6v6h-6zM831 762h6v6h-6zM711 768h6v6h-6zM849 768h6v6h-6z"/>
<path fill="rgb(120,120,120)" d="M741 186h6v6h-6zM723 198h6v6h-6zM717 204h6v6h-6zM801 204h6v6h-6zM639 234h6v6h-6zM801 240h6v6h-6zM753 282h6v6h-6zM729 294h6v6h-6zM705 330h6v6h-6zM807 390h6v6h-6zM825 390h6v6h-6zM831 396h6v6h-6zM693 408h6v6h-6zM837 408h6v6h-6zM795 414h6v6h-6zM837 414h6v6h-6zM795 420h6v6h-6zM795 426h6v6h-6zM837 426h6v6h-6zM837 432h6v6h-6zM801 444h6v6h-6zM831 444h6v6h-6zM711 450h12v6h-12zM747 450h6v6h-6zM825 450h6v6h-6zM759 456h6v6h-6zM837 462h6v6h-6zM765 486h6v6h-6zM789 486h6v6h-6zM819 486h24v6h-24zM741 528h6v6h-6zM735 552h6v6h-6zM729 564h6v6h-6zM729 570h6v6h-6zM729 576h6v6h-6zM705 582h6v6h-6zM723 582h12v6h-12zM711 588h6v6h-6zM729 588h6v6h-6zM735 594h6v6h-6zM699 600h6v6h-6zM741 600h6v6h-6zM579 624h6v6h-6zM585 636h6v6h-6zM591 642h6v6h-6zM597 648h18v6h-18zM609 654h6v6h-6zM753 654h6v6h-6zM609 660h12v6h-12zM609 666h12v6h-12zM615 672h6v6h-6zM615 678h12v6h-12zM621 684h12v6h-12zM771 684h6v6h-6zM627 690h12v6h-12zM633 696h18v6h-18zM783 696h6v6h-6zM645 702h24v6h-24zM867 702h6v6h-6zM663 708h12v6h-12zM879 708h6v6h-6zM993 708h6v6h-6zM675 714h6v6h-6zM879 714h6v6h-6zM873 720h6v6h-6zM681 726h6v6h-6zM879 726h12v6h-12zM903 726h6v6h-6zM681 732h6v6h-6zM933 732h6v6h-6zM933 738h6v6h-6zM735 744h6v6h-6zM927 744h6v6h-6zM753 750h12v6h-12zM819 756h6v6h-6zM909 756h6v6h-6zM897 768h6v6h-6z"/>
<path fill="rgb(121,121,121)" d="M789 186h6v6h-6zM729 192h6v6h-6zM795 192h6v6h-6zM711 210h6v6h-6zM705 222h6v6h-6zM807 222h6v6h-6zM591 228h36v6h-36zM699 234h6v6h-6zM669 246h6v6h-6zM789 258h6v6h-6zM771 276h6v6h-6zM723 300h6v6h-6zM813 384h12v6h-12zM831 390h6v6h-6zM801 396h6v6h-6zM837 402h6v6h-6zM795 408h6v6h-6zM693 414h6v6h-6zM795 432h6v6h-6zM693 444h6v6h-6zM753 450h6v6h-6zM801 450h6v6h-6zM765 456h6v6h-6zM795 456h6v6h-6zM831 456h6v6h-6zM771 486h18v6h-18zM843 486h12v6h-12zM753 492h6v6h-6zM747 498h6v6h-6zM741 534h6v6h-6zM735 558h6v6h-6zM675 582h6v6h-6zM699 582h6v6h-6zM735 582h6v6h-6zM975 582h12v6h-12zM705 588h6v6h-6zM735 588h6v6h-6zM675 594h6v6h-6zM705 594h6v6h-6zM681 600h6v6h-6zM747 606h6v6h-6zM753 624h6v6h-6zM753 630h6v6h-6zM753 636h6v6h-6zM753 642h6v6h-6zM591 648h6v6h-6zM753 648h6v6h-6zM597 654h12v6h-12zM603 660h6v6h-6zM759 660h6v6h-6zM603 666h6v6h-6zM765 666h6v6h-6zM603 672h12v6h-12zM609 678h6v6h-6zM771 678h6v6h-6zM609 684h12v6h-12zM615 690h12v6h-12zM777 690h6v6h-6zM621 696h12v6h-12zM627 702h18v6h-18zM873 702h6v6h-6zM633 708h30v6h-30zM987 708h6v6h-6zM999 708h6v6h-6zM651 714h24v6h-24zM675 720h6v6h-6zM879 720h6v6h-6zM891 726h12v6h-12zM681 738h6v6h-6zM681 744h6v6h-6zM777 744h6v6h-6zM795 744h6v6h-6zM729 750h6v6h-6zM747 750h6v6h-6zM765 750h6v6h-6zM807 750h6v6h-6zM921 750h6v6h-6zM687 762h6v6h-6zM903 762h6v6h-6zM693 768h6v6h-6zM843 768h6v6h-6z"/>
<path fill="rgb(122,122,122)" d="M753 180h30v6h-30zM735 186h6v6h-6zM717 198h6v6h-6zM801 198h6v6h-6zM807 210h6v6h-6zM705 216h6v6h-6zM807 216h6v6h-6zM585 228h6v6h-6zM627 228h6v6h-6zM807 228h6v6h-6zM645 234h6v6h-6zM657 240h6v6h-6zM693 240h6v6h-6zM675 246h6v6h-6zM687 246h6v6h-6zM795 252h6v6h-6zM759 282h6v6h-6zM741 288h6v6h-6zM717 306h6v6h-6zM699 366h6v6h-6zM699 378h6v6h-6zM699 384h6v6h-6zM825 384h6v6h-6zM699 390h6v6h-6zM801 390h6v6h-6zM837 396h6v6h-6zM795 402h6v6h-6zM693 420h6v6h-6zM843 420h6v6h-6zM693 426h6v6h-6zM693 438h6v6h-6zM795 438h6v6h-6zM837 438h6v6h-6zM699 444h12v6h-12zM831 450h6v6h-6zM789 456h6v6h-6zM849 468h6v6h-6zM855 474h6v6h-6zM861 480h6v6h-6zM855 486h6v6h-6zM741 540h6v6h-6zM735 564h6v6h-6zM735 570h6v6h-6zM735 576h6v6h-6zM693 582h6v6h-6zM741 594h6v6h-6zM687 600h12v6h-12zM753 618h6v6h-6zM579 630h6v6h-6zM585 642h6v6h-6zM585 648h6v6h-6zM591 654h6v6h-6zM759 654h6v6h-6zM591 660h12v6h-12zM597 666h6v6h-6zM903 666h6v6h-6zM597 672h6v6h-6zM771 672h6v6h-6zM597 678h12v6h-12zM603 684h6v6h-6zM603 690h12v6h-12zM609 696h12v6h-12zM789 696h6v6h-6zM615 702h12v6h-12zM621 708h12v6h-12zM885 708h6v6h-6zM627 714h24v6h-24zM885 714h6v6h-6zM639 720h36v6h-36zM915 720h12v6h-12zM669 726h12v6h-12zM933 726h6v6h-6zM681 750h6v6h-6zM741 750h6v6h-6zM771 750h6v6h-6zM723 762h6v6h-6zM825 762h6v6h-6zM717 768h6v6h-6zM903 768h6v6h-6z"/>
<path fill="rgb(123,123,123)" d="M747 180h6v6h-6zM783 180h6v6h-6zM729 186h6v6h-6zM795 186h6v6h-6zM723 192h6v6h-6zM711 204h6v6h-6zM705 210h6v6h-6zM579 228h6v6h-6zM633 228h6v6h-6zM699 228h6v6h-6zM807 234h6v6h-6zM663 240h6v6h-6zM681 246h6v6h-6zM765 282h6v6h-6zM699 372h6v6h-6zM819 378h6v6h-6zM807 384h6v6h-6zM831 384h6v6h-6zM837 390h6v6h-6zM699 396h6v6h-6zM795 396h6v6h-6zM843 408h6v6h-6zM789 414h6v6h-6zM843 414h6v6h-6zM789 420h6v6h-6zM789 426h6v6h-6zM843 426h6v6h-6zM693 432h6v6h-6zM789 432h6v6h-6zM843 432h6v6h-6zM711 444h42v6h-42zM795 444h6v6h-6zM837 444h6v6h-6zM759 450h6v6h-6zM795 450h6v6h-6zM771 456h18v6h-18zM843 462h6v6h-6zM891 462h12v6h-12zM861 486h6v6h-6zM747 504h6v6h-6zM741 546h6v6h-6zM741 552h6v6h-6zM975 576h12v6h-12zM681 582h12v6h-12zM741 582h6v6h-6zM675 588h6v6h-6zM699 588h6v6h-6zM741 588h6v6h-6zM699 594h6v6h-6zM747 600h6v6h-6zM753 612h6v6h-6zM579 636h6v6h-6zM579 642h6v6h-6zM759 648h6v6h-6zM585 654h6v6h-6zM585 660h6v6h-6zM765 660h6v6h-6zM585 666h12v6h-12zM771 666h6v6h-6zM897 666h6v6h-6zM909 666h6v6h-6zM585 672h12v6h-12zM591 678h6v6h-6zM777 678h6v6h-6zM591 684h12v6h-12zM777 684h6v6h-6zM591 690h12v6h-12zM597 696h12v6h-12zM795 696h6v6h-6zM819 696h42v6h-42zM597 702h18v6h-18zM879 702h6v6h-6zM603 708h18v6h-18zM981 708h6v6h-6zM609 714h18v6h-18zM891 714h6v6h-6zM621 720h18v6h-18zM885 720h12v6h-12zM909 720h6v6h-6zM927 720h6v6h-6zM627 726h42v6h-42zM645 732h36v6h-36zM675 738h6v6h-6zM783 744h12v6h-12zM933 744h6v6h-6zM735 750h6v6h-6zM681 756h6v6h-6zM729 756h6v6h-6zM813 756h6v6h-6zM915 756h6v6h-6zM837 768h6v6h-6z"/>
<path fill="rgb(124,124,124)" d="M735 180h12v6h-12zM789 180h6v6h-6zM723 186h6v6h-6zM717 192h6v6h-6zM801 192h6v6h-6zM711 198h6v6h-6zM705 204h6v6h-6zM807 204h6v6h-6zM699 216h6v6h-6zM699 222h6v6h-6zM639 228h6v6h-6zM651 234h6v6h-6zM693 234h6v6h-6zM801 246h6v6h-6zM777 276h6v6h-6zM747 288h6v6h-6zM705 336h6v6h-6zM813 378h6v6h-6zM825 378h12v6h-12zM801 384h6v6h-6zM837 384h6v6h-6zM795 390h6v6h-6zM843 396h6v6h-6zM699 402h6v6h-6zM789 402h6v6h-6zM843 402h6v6h-6zM699 408h6v6h-6zM789 408h6v6h-6zM699 438h12v6h-12zM789 438h6v6h-6zM753 444h6v6h-6zM789 444h6v6h-6zM765 450h6v6h-6zM789 450h6v6h-6zM837 450h6v6h-6zM837 456h6v6h-6zM897 456h6v6h-6zM867 480h6v6h-6zM867 486h12v6h-12zM759 492h6v6h-6zM747 510h6v6h-6zM741 558h6v6h-6zM741 564h6v6h-6zM741 570h6v6h-6zM741 576h6v6h-6zM975 588h12v6h-12zM747 594h6v6h-6zM759 636h6v6h-6zM759 642h6v6h-6zM579 648h6v6h-6zM579 654h6v6h-6zM765 654h6v6h-6zM579 660h6v6h-6zM771 660h6v6h-6zM897 660h18v6h-18zM579 666h6v6h-6zM891 666h6v6h-6zM579 672h6v6h-6zM777 672h6v6h-6zM897 672h18v6h-18zM579 678h12v6h-12zM579 684h12v6h-12zM579 690h12v6h-12zM783 690h6v6h-6zM585 696h12v6h-12zM801 696h18v6h-18zM861 696h6v6h-6zM999 696h12v6h-12zM585 702h12v6h-12zM885 702h6v6h-6zM987 702h6v6h-6zM1011 702h6v6h-6zM591 708h12v6h-12zM891 708h6v6h-6zM1005 708h6v6h-6zM597 714h12v6h-12zM597 720h24v6h-24zM897 720h12v6h-12zM609 726h18v6h-18zM615 732h30v6h-30zM939 732h6v6h-6zM627 738h48v6h-48zM939 738h6v6h-6zM639 744h42v6h-42zM669 750h12v6h-12zM777 750h6v6h-6zM801 750h6v6h-6zM927 750h6v6h-6zM735 756h36v6h-36zM681 762h6v6h-6zM909 762h6v6h-6zM687 768h6v6h-6zM723 768h6v6h-6z"/>
<path fill="rgb(125,125,125)" d="M741 174h48v6h-48zM729 180h6v6h-6zM795 180h6v6h-6zM639 186h18v6h-18zM717 186h6v6h-6zM801 186h6v6h-6zM645 192h12v6h-12zM711 192h6v6h-6zM705 198h6v6h-6zM807 198h6v6h-6zM699 204h6v6h-6zM699 210h6v6h-6zM813 210h6v6h-6zM693 216h6v6h-6zM813 216h6v6h-6zM585 222h54v6h-54zM693 222h6v6h-6zM813 222h6v6h-6zM645 228h6v6h-6zM693 228h6v6h-6zM657 234h6v6h-6zM669 240h24v6h-24zM807 240h6v6h-6zM783 270h6v6h-6zM771 282h6v6h-6zM735 294h6v6h-6zM825 372h6v6h-6zM807 378h6v6h-6zM837 378h6v6h-6zM843 390h6v6h-6zM789 396h6v6h-6zM849 402h6v6h-6zM783 408h6v6h-6zM849 408h6v6h-6zM699 414h6v6h-6zM783 414h6v6h-6zM849 414h6v6h-6zM699 420h6v6h-6zM783 420h6v6h-6zM849 420h6v6h-6zM699 426h6v6h-6zM783 426h6v6h-6zM849 426h6v6h-6zM699 432h12v6h-12zM783 432h6v6h-6zM711 438h42v6h-42zM843 438h6v6h-6zM759 444h6v6h-6zM771 450h6v6h-6zM783 450h6v6h-6zM891 456h6v6h-6zM861 474h6v6h-6zM879 486h6v6h-6zM753 498h6v6h-6zM747 516h6v6h-6zM747 522h6v6h-6zM987 582h6v6h-6zM681 588h6v6h-6zM693 588h6v6h-6zM747 588h6v6h-6zM681 594h6v6h-6zM693 594h6v6h-6zM753 606h6v6h-6zM759 624h6v6h-6zM759 630h6v6h-6zM765 642h6v6h-6zM765 648h6v6h-6zM771 654h6v6h-6zM777 660h6v6h-6zM777 666h6v6h-6zM915 666h6v6h-6zM783 672h6v6h-6zM891 672h6v6h-6zM783 678h6v6h-6zM783 684h6v6h-6zM789 690h12v6h-12zM579 696h6v6h-6zM867 696h12v6h-12zM579 702h6v6h-6zM891 702h6v6h-6zM579 708h12v6h-12zM897 708h6v6h-6zM579 714h18v6h-18zM897 714h12v6h-12zM579 720h18v6h-18zM933 720h6v6h-6zM585 726h24v6h-24zM939 726h6v6h-6zM591 732h24v6h-24zM597 738h30v6h-30zM603 744h36v6h-36zM609 750h60v6h-60zM783 750h6v6h-6zM795 750h6v6h-6zM621 756h60v6h-60zM771 756h12v6h-12zM807 756h6v6h-6zM921 756h6v6h-6zM639 762h42v6h-42zM729 762h36v6h-36zM819 762h6v6h-6zM657 768h30v6h-30zM729 768h6v6h-6zM831 768h6v6h-6zM909 768h6v6h-6z"/>
<path fill="rgb(126,126,126)" d="M621 150h54v6h-54zM609 156h84v6h-84zM603 162h96v6h-96zM597 168h108v6h-108zM741 168h42v6h-42zM849 168h6v6h-6zM591 174h150v6h-150zM789 174h6v6h-6zM843 174h18v6h-18zM591 180h138v6h-138zM801 180h6v6h-6zM843 180h18v6h-18zM591 186h48v6h-48zM657 186h60v6h-60zM807 186h6v6h-6zM849 186h6v6h-6zM591 192h54v6h-54zM657 192h54v6h-54zM807 192h6v6h-6zM591 198h114v6h-114zM813 198h6v6h-6zM597 204h102v6h-102zM813 204h6v6h-6zM597 210h102v6h-102zM585 216h108v6h-108zM579 222h6v6h-6zM639 222h54v6h-54zM651 228h42v6h-42zM813 228h6v6h-6zM663 234h30v6h-30zM753 288h6v6h-6zM813 372h12v6h-12zM831 372h12v6h-12zM801 378h6v6h-6zM843 378h6v6h-6zM795 384h6v6h-6zM843 384h12v6h-12zM789 390h6v6h-6zM849 390h6v6h-6zM705 396h6v6h-6zM783 396h6v6h-6zM849 396h6v6h-6zM705 402h6v6h-6zM783 402h6v6h-6zM855 402h6v6h-6zM705 408h6v6h-6zM777 408h6v6h-6zM855 408h6v6h-6zM705 414h6v6h-6zM777 414h6v6h-6zM855 414h6v6h-6zM705 420h18v6h-18zM777 420h6v6h-6zM855 420h6v6h-6zM705 426h42v6h-42zM777 426h6v6h-6zM711 432h48v6h-48zM777 432h6v6h-6zM753 438h18v6h-18zM777 438h12v6h-12zM765 444h24v6h-24zM843 444h6v6h-6zM777 450h6v6h-6zM843 456h6v6h-6zM903 456h6v6h-6zM849 462h6v6h-6zM903 462h6v6h-6zM855 468h6v6h-6zM891 468h12v6h-12zM873 480h6v6h-6zM885 486h12v6h-12zM747 528h6v6h-6zM747 534h6v6h-6zM987 576h6v6h-6zM747 582h6v6h-6zM969 582h6v6h-6zM687 588h6v6h-6zM687 594h6v6h-6zM759 618h6v6h-6zM765 636h6v6h-6zM771 648h6v6h-6zM777 654h12v6h-12zM783 660h12v6h-12zM891 660h6v6h-6zM915 660h6v6h-6zM783 666h18v6h-18zM885 666h6v6h-6zM789 672h12v6h-12zM885 672h6v6h-6zM915 672h6v6h-6zM789 678h18v6h-18zM897 678h12v6h-12zM789 684h18v6h-18zM801 690h60v6h-60zM879 696h12v6h-12zM897 702h6v6h-6zM903 708h6v6h-6zM975 708h6v6h-6zM909 714h18v6h-18zM981 714h12v6h-12zM579 726h6v6h-6zM579 732h12v6h-12zM579 738h18v6h-18zM579 744h24v6h-24zM939 744h6v6h-6zM579 750h30v6h-30zM789 750h6v6h-6zM933 750h6v6h-6zM579 756h42v6h-42zM783 756h12v6h-12zM801 756h6v6h-6zM585 762h54v6h-54zM765 762h18v6h-18zM813 762h6v6h-6zM915 762h6v6h-6zM591 768h66v6h-66zM735 768h36v6h-36zM825 768h6v6h-6zM915 768h6v6h-6z"/>
<path fill="rgb(127,127,127)" d="M579 126h168v6h-168zM579 132h162v6h-162zM579 138h168v6h-168zM579 144h168v6h-168zM579 150h42v6h-42zM675 150h78v6h-78zM579 156h30v6h-30zM693 156h78v6h-78zM579 162h24v6h-24zM699 162h102v6h-102zM837 162h24v6h-24zM579 168h18v6h-18zM705 168h36v6h-36zM783 168h24v6h-24zM831 168h18v6h-18zM855 168h12v6h-12zM579 174h12v6h-12zM795 174h18v6h-18zM831 174h12v6h-12zM861 174h6v6h-6zM579 180h12v6h-12zM807 180h12v6h-12zM831 180h12v6h-12zM861 180h6v6h-6zM579 186h12v6h-12zM813 186h6v6h-6zM831 186h18v6h-18zM855 186h6v6h-6zM579 192h12v6h-12zM813 192h6v6h-6zM579 198h12v6h-12zM819 198h6v6h-6zM579 204h18v6h-18zM819 204h6v6h-6zM579 210h18v6h-18zM819 210h6v6h-6zM579 216h6v6h-6zM813 234h6v6h-6zM789 264h6v6h-6zM759 288h6v6h-6zM729 300h6v6h-6zM705 342h6v6h-6zM831 366h18v6h-18zM843 372h18v6h-18zM849 378h18v6h-18zM789 384h6v6h-6zM855 384h12v6h-12zM705 390h6v6h-6zM783 390h6v6h-6zM855 390h18v6h-18zM771 396h12v6h-12zM855 396h18v6h-18zM711 402h6v6h-6zM729 402h54v6h-54zM861 402h12v6h-12zM711 408h66v6h-66zM861 408h12v6h-12zM711 414h66v6h-66zM861 414h12v6h-12zM723 420h54v6h-54zM861 420h6v6h-6zM747 426h30v6h-30zM855 426h6v6h-6zM759 432h18v6h-18zM849 432h6v6h-6zM771 438h6v6h-6zM843 450h6v6h-6zM891 450h18v6h-18zM885 462h6v6h-6zM879 480h6v6h-6zM897 486h12v6h-12zM897 492h42v6h-42zM747 540h6v6h-6zM747 570h6v6h-6zM981 570h6v6h-6zM747 576h6v6h-6zM969 576h6v6h-6zM969 588h6v6h-6zM987 588h6v6h-6zM753 600h6v6h-6zM765 630h6v6h-6zM771 642h12v6h-12zM777 648h18v6h-18zM789 654h18v6h-18zM903 654h12v6h-12zM795 660h18v6h-18zM885 660h6v6h-6zM801 666h18v6h-18zM921 666h6v6h-6zM801 672h24v6h-24zM879 672h6v6h-6zM807 678h30v6h-30zM885 678h12v6h-12zM909 678h6v6h-6zM807 684h48v6h-48zM861 690h24v6h-24zM891 696h6v6h-6zM1011 696h6v6h-6zM903 702h6v6h-6zM909 708h6v6h-6zM927 714h6v6h-6zM975 714h6v6h-6zM939 720h6v6h-6zM945 732h6v6h-6zM945 738h6v6h-6zM795 756h6v6h-6zM927 756h6v6h-6zM579 762h6v6h-6zM783 762h30v6h-30zM921 762h6v6h-6zM579 768h12v6h-12zM771 768h54v6h-54zM921 768h6v6h-6z"/>
<path fill="rgb(129,129,129)" d="M759 126h6v6h-6zM813 126h6v6h-6zM909 126h78v6h-78zM759 132h6v6h-6zM819 132h6v6h-6zM897 132h72v6h-72zM819 138h6v6h-6zM885 138h60v6h-60zM759 144h6v6h-6zM813 144h12v6h-12zM879 144h42v6h-42zM771 150h6v6h-6zM801 150h12v6h-12zM873 150h36v6h-36zM873 156h24v6h-24zM873 162h18v6h-18zM873 168h12v6h-12zM873 174h6v6h-6zM867 180h6v6h-6zM855 192h6v6h-6zM831 198h18v6h-18zM825 204h12v6h-12zM825 210h6v6h-6zM825 216h6v6h-6zM819 234h6v6h-6zM999 300h18v6h-18zM1035 300h6v6h-6zM987 306h54v6h-54zM963 312h78v6h-78zM711 318h6v6h-6zM939 318h90v6h-90zM897 324h120v6h-120zM867 330h138v6h-138zM861 336h126v6h-126zM861 342h6v6h-6zM855 348h6v6h-6zM849 354h6v6h-6zM837 360h6v6h-6zM819 366h6v6h-6zM783 384h6v6h-6zM735 390h36v6h-36zM717 396h12v6h-12zM867 426h6v6h-6zM879 432h6v6h-6zM849 438h6v6h-6zM885 438h6v6h-6zM885 450h6v6h-6zM915 462h6v6h-6zM885 468h6v6h-6zM909 468h24v6h-24zM873 474h6v6h-6zM891 474h18v6h-18zM915 474h24v6h-24zM891 480h48v6h-48zM885 492h6v6h-6zM759 498h6v6h-6zM915 498h6v6h-6zM1023 498h12v6h-12zM933 504h6v6h-6zM1017 504h24v6h-24zM753 510h6v6h-6zM945 510h24v6h-24zM1005 510h36v6h-36zM957 516h66v6h-66zM1035 516h6v6h-6zM969 522h48v6h-48zM975 528h42v6h-42zM981 534h30v6h-30zM993 540h12v6h-12zM969 570h6v6h-6zM987 570h6v6h-6zM993 576h6v6h-6zM993 582h6v6h-6zM753 588h6v6h-6zM771 630h6v6h-6zM777 636h18v6h-18zM801 642h6v6h-6zM807 648h12v6h-12zM819 654h6v6h-6zM921 654h6v6h-6zM825 660h18v6h-18zM873 660h12v6h-12zM927 660h6v6h-6zM843 666h30v6h-30zM927 666h6v6h-6zM927 672h6v6h-6zM921 678h6v6h-6zM915 684h12v6h-12zM909 690h12v6h-12zM909 696h18v6h-18zM921 702h6v6h-6zM981 702h6v6h-6zM1017 702h6v6h-6zM927 708h12v6h-12zM969 708h6v6h-6zM939 714h6v6h-6zM969 714h6v6h-6zM945 720h6v6h-6zM945 750h6v6h-6zM939 756h12v6h-12zM939 762h12v6h-12zM939 768h18v6h-18z"/>
<path fill="rgb(130,130,130)" d="M765 126h6v6h-6zM807 126h6v6h-6zM987 126h18v6h-18zM813 132h6v6h-6zM969 132h30v6h-30zM759 138h6v6h-6zM813 138h6v6h-6zM945 138h48v6h-48zM765 144h6v6h-6zM921 144h30v6h-30zM777 150h24v6h-24zM909 150h24v6h-24zM897 156h24v6h-24zM891 162h18v6h-18zM885 168h12v6h-12zM879 174h6v6h-6zM873 180h6v6h-6zM867 186h6v6h-6zM861 192h6v6h-6zM849 198h6v6h-6zM837 204h6v6h-6zM831 210h6v6h-6zM825 222h6v6h-6zM825 228h6v6h-6zM819 240h6v6h-6zM813 246h6v6h-6zM783 276h6v6h-6zM771 288h6v6h-6zM1005 288h12v6h-12zM747 294h6v6h-6zM987 294h36v6h-36zM1035 294h6v6h-6zM969 300h30v6h-30zM1017 300h18v6h-18zM951 306h36v6h-36zM927 312h36v6h-36zM891 318h48v6h-48zM867 324h30v6h-30zM861 330h6v6h-6zM855 336h6v6h-6zM855 342h6v6h-6zM849 348h6v6h-6zM843 354h6v6h-6zM831 360h6v6h-6zM813 366h6v6h-6zM801 372h6v6h-6zM705 378h6v6h-6zM789 378h6v6h-6zM771 384h12v6h-12zM711 390h6v6h-6zM729 390h6v6h-6zM855 432h6v6h-6zM885 444h6v6h-6zM849 450h6v6h-6zM879 456h6v6h-6zM861 462h6v6h-6zM879 462h6v6h-6zM867 468h6v6h-6zM879 468h6v6h-6zM879 474h12v6h-12zM909 474h6v6h-6zM879 492h6v6h-6zM909 498h6v6h-6zM927 504h6v6h-6zM939 510h6v6h-6zM951 516h6v6h-6zM1023 516h12v6h-12zM957 522h12v6h-12zM1017 522h6v6h-6zM1035 522h6v6h-6zM963 528h12v6h-12zM1017 528h6v6h-6zM1035 528h6v6h-6zM963 534h18v6h-18zM1011 534h6v6h-6zM969 540h24v6h-24zM1005 540h12v6h-12zM969 546h42v6h-42zM975 552h36v6h-36zM981 558h30v6h-30zM975 564h30v6h-30zM993 570h6v6h-6zM963 582h6v6h-6zM993 588h6v6h-6zM969 594h6v6h-6zM987 594h6v6h-6zM759 606h6v6h-6zM765 618h6v6h-6zM777 630h6v6h-6zM795 636h6v6h-6zM807 642h6v6h-6zM819 648h6v6h-6zM903 648h18v6h-18zM825 654h18v6h-18zM879 654h12v6h-12zM927 654h6v6h-6zM843 660h30v6h-30zM933 660h6v6h-6zM933 666h6v6h-6zM933 672h6v6h-6zM927 678h12v6h-12zM927 684h12v6h-12zM921 690h18v6h-18zM927 696h12v6h-12zM1017 696h6v6h-6zM927 702h12v6h-12zM939 708h6v6h-6zM945 714h6v6h-6zM963 714h6v6h-6zM999 714h6v6h-6zM951 726h6v6h-6zM951 732h6v6h-6zM951 738h6v6h-6zM951 744h6v6h-6zM951 750h6v6h-6zM951 756h6v6h-6zM951 762h12v6h-12zM957 768h12v6h-12z"/>
<path fill="rgb(131,131,131)" d="M771 126h6v6h-6zM801 126h6v6h-6zM765 132h6v6h-6zM999 132h6v6h-6zM993 138h12v6h-12zM807 144h6v6h-6zM951 144h48v6h-48zM933 150h12v6h-12zM921 156h6v6h-6zM909 162h12v6h-12zM897 168h18v6h-18zM885 174h18v6h-18zM879 180h6v6h-6zM873 186h6v6h-6zM855 198h6v6h-6zM843 204h6v6h-6zM837 210h6v6h-6zM831 216h6v6h-6zM825 234h6v6h-6zM819 246h6v6h-6zM807 252h6v6h-6zM1005 282h6v6h-6zM987 288h18v6h-18zM1017 288h6v6h-6zM969 294h18v6h-18zM1023 294h12v6h-12zM735 300h6v6h-6zM951 300h18v6h-18zM723 306h6v6h-6zM927 306h24v6h-24zM903 312h24v6h-24zM873 318h18v6h-18zM861 324h6v6h-6zM855 330h6v6h-6zM705 348h6v6h-6zM825 360h6v6h-6zM747 384h24v6h-24zM717 390h12v6h-12zM873 432h6v6h-6zM849 444h6v6h-6zM855 456h6v6h-6zM867 462h12v6h-12zM873 468h6v6h-6zM771 492h6v6h-6zM921 504h6v6h-6zM753 516h6v6h-6zM945 516h6v6h-6zM951 522h6v6h-6zM1023 522h12v6h-12zM957 528h6v6h-6zM1023 528h12v6h-12zM957 534h6v6h-6zM1017 534h6v6h-6zM1035 534h6v6h-6zM963 540h6v6h-6zM963 546h6v6h-6zM1011 546h6v6h-6zM963 552h12v6h-12zM1011 552h6v6h-6zM969 558h12v6h-12zM969 564h6v6h-6zM1005 564h6v6h-6zM963 570h6v6h-6zM999 570h12v6h-12zM963 576h6v6h-6zM999 576h12v6h-12zM753 582h6v6h-6zM999 582h6v6h-6zM963 588h6v6h-6zM999 588h6v6h-6zM993 594h6v6h-6zM759 600h6v6h-6zM975 600h18v6h-18zM771 624h6v6h-6zM783 630h18v6h-18zM801 636h6v6h-6zM813 642h6v6h-6zM825 648h6v6h-6zM891 648h12v6h-12zM921 648h24v6h-24zM843 654h36v6h-36zM933 654h12v6h-12zM939 660h6v6h-6zM939 666h12v6h-12zM939 672h12v6h-12zM939 678h12v6h-12zM939 684h12v6h-12zM939 690h6v6h-6zM1035 690h6v6h-6zM939 696h6v6h-6zM1035 696h6v6h-6zM939 702h12v6h-12zM1023 702h6v6h-6zM945 708h6v6h-6zM963 708h6v6h-6zM1017 708h6v6h-6zM951 714h12v6h-12zM951 720h12v6h-12zM957 744h6v6h-6zM957 750h6v6h-6zM957 756h6v6h-6zM963 762h12v6h-12zM969 768h18v6h-18zM1029 768h12v6h-12z"/>
<path fill="rgb(132,132,132)" d="M777 126h6v6h-6zM1005 126h6v6h-6zM807 132h6v6h-6zM1005 132h6v6h-6zM765 138h6v6h-6zM771 144h6v6h-6zM999 144h6v6h-6zM945 150h60v6h-60zM927 156h12v6h-12zM921 162h6v6h-6zM915 168h6v6h-6zM903 174h12v6h-12zM885 180h12v6h-12zM867 192h6v6h-6zM849 204h6v6h-6zM837 216h6v6h-6zM831 222h6v6h-6zM831 228h6v6h-6zM825 240h6v6h-6zM813 252h12v6h-12zM789 270h6v6h-6zM1005 276h6v6h-6zM783 282h6v6h-6zM993 282h12v6h-12zM1011 282h6v6h-6zM777 288h6v6h-6zM975 288h12v6h-12zM1035 288h6v6h-6zM753 294h6v6h-6zM957 294h12v6h-12zM939 300h12v6h-12zM915 306h12v6h-12zM885 312h18v6h-18zM861 318h12v6h-12zM855 324h6v6h-6zM849 342h6v6h-6zM837 354h6v6h-6zM705 372h6v6h-6zM783 378h6v6h-6zM711 384h6v6h-6zM735 384h12v6h-12zM861 432h6v6h-6zM879 438h6v6h-6zM879 450h6v6h-6zM873 456h6v6h-6zM873 492h6v6h-6zM903 498h6v6h-6zM933 510h6v6h-6zM939 516h6v6h-6zM753 522h6v6h-6zM945 522h6v6h-6zM753 528h6v6h-6zM951 528h6v6h-6zM951 534h6v6h-6zM1023 534h12v6h-12zM957 540h6v6h-6zM1017 540h6v6h-6zM1035 540h6v6h-6zM957 546h6v6h-6zM1017 546h6v6h-6zM957 552h6v6h-6zM957 558h12v6h-12zM1011 558h6v6h-6zM963 564h6v6h-6zM1011 564h6v6h-6zM1011 570h6v6h-6zM753 576h6v6h-6zM957 582h6v6h-6zM1005 582h6v6h-6zM1005 588h6v6h-6zM963 594h6v6h-6zM999 594h12v6h-12zM963 600h12v6h-12zM993 600h18v6h-18zM963 606h42v6h-42zM765 612h6v6h-6zM963 612h36v6h-36zM957 618h18v6h-18zM777 624h12v6h-12zM951 624h18v6h-18zM939 630h30v6h-30zM807 636h6v6h-6zM927 636h36v6h-36zM819 642h6v6h-6zM909 642h54v6h-54zM831 648h12v6h-12zM885 648h6v6h-6zM945 648h18v6h-18zM945 654h18v6h-18zM945 660h18v6h-18zM951 666h12v6h-12zM951 672h12v6h-12zM951 678h6v6h-6zM1035 678h6v6h-6zM951 684h6v6h-6zM1035 684h6v6h-6zM945 690h6v6h-6zM1005 690h30v6h-30zM945 696h6v6h-6zM1023 696h12v6h-12zM1029 702h12v6h-12zM951 708h12v6h-12zM1035 708h6v6h-6zM1005 714h6v6h-6zM963 720h24v6h-24zM957 726h6v6h-6zM957 732h6v6h-6zM957 738h6v6h-6zM963 750h6v6h-6zM963 756h12v6h-12zM975 762h6v6h-6zM1035 762h6v6h-6zM987 768h42v6h-42z"/>
<path fill="rgb(133,133,133)" d="M783 126h18v6h-18zM807 138h6v6h-6zM1005 138h6v6h-6zM801 144h6v6h-6zM939 156h6v6h-6zM969 156h36v6h-36zM927 162h6v6h-6zM993 162h6v6h-6zM921 168h6v6h-6zM915 174h6v6h-6zM897 180h18v6h-18zM879 186h6v6h-6zM861 198h6v6h-6zM843 210h6v6h-6zM831 234h6v6h-6zM825 246h6v6h-6zM825 252h6v6h-6zM801 258h6v6h-6zM819 258h6v6h-6zM993 276h12v6h-12zM1011 276h6v6h-6zM981 282h12v6h-12zM1017 282h6v6h-6zM963 288h12v6h-12zM1023 288h12v6h-12zM945 294h12v6h-12zM921 300h18v6h-18zM897 306h18v6h-18zM873 312h12v6h-12zM849 330h6v6h-6zM849 336h6v6h-6zM843 348h6v6h-6zM819 360h6v6h-6zM705 366h6v6h-6zM807 366h6v6h-6zM795 372h6v6h-6zM777 378h6v6h-6zM729 384h6v6h-6zM867 432h6v6h-6zM861 456h12v6h-12zM777 492h6v6h-6zM759 504h6v6h-6zM945 528h6v6h-6zM753 534h6v6h-6zM951 540h6v6h-6zM1023 540h12v6h-12zM951 546h6v6h-6zM1035 546h6v6h-6zM1017 552h6v6h-6zM753 564h6v6h-6zM957 564h6v6h-6zM753 570h6v6h-6zM957 570h6v6h-6zM957 576h6v6h-6zM1011 576h6v6h-6zM1011 582h6v6h-6zM957 588h6v6h-6zM759 594h6v6h-6zM957 594h6v6h-6zM951 600h12v6h-12zM951 606h12v6h-12zM1005 606h6v6h-6zM945 612h18v6h-18zM999 612h6v6h-6zM771 618h6v6h-6zM939 618h18v6h-18zM975 618h30v6h-30zM789 624h6v6h-6zM933 624h18v6h-18zM969 624h30v6h-30zM801 630h6v6h-6zM927 630h12v6h-12zM969 630h30v6h-30zM813 636h6v6h-6zM915 636h12v6h-12zM963 636h30v6h-30zM825 642h6v6h-6zM897 642h12v6h-12zM963 642h30v6h-30zM843 648h42v6h-42zM963 648h30v6h-30zM963 654h18v6h-18zM963 660h12v6h-12zM963 666h6v6h-6zM1035 672h6v6h-6zM957 678h6v6h-6zM1029 678h6v6h-6zM1023 684h12v6h-12zM951 690h6v6h-6zM951 696h6v6h-6zM951 702h6v6h-6zM975 702h6v6h-6zM1023 708h12v6h-12zM1011 714h6v6h-6zM1035 714h6v6h-6zM987 720h6v6h-6zM963 726h6v6h-6zM963 732h6v6h-6zM963 738h6v6h-6zM963 744h6v6h-6zM969 750h6v6h-6zM975 756h6v6h-6zM1035 756h6v6h-6zM981 762h12v6h-12zM1023 762h12v6h-12z"/>
<path fill="rgb(134,134,134)" d="M771 132h6v6h-6zM771 138h6v6h-6zM777 144h6v6h-6zM795 144h6v6h-6zM1005 144h6v6h-6zM1005 150h6v6h-6zM945 156h24v6h-24zM933 162h6v6h-6zM981 162h12v6h-12zM999 162h6v6h-6zM927 168h6v6h-6zM987 168h18v6h-18zM921 174h6v6h-6zM993 174h6v6h-6zM915 180h12v6h-12zM885 186h18v6h-18zM873 192h6v6h-6zM969 198h6v6h-6zM855 204h6v6h-6zM963 204h12v6h-12zM963 210h12v6h-12zM843 216h6v6h-6zM963 216h12v6h-12zM837 222h6v6h-6zM963 222h18v6h-18zM963 228h24v6h-24zM969 234h24v6h-24zM831 240h6v6h-6zM975 240h24v6h-24zM807 258h12v6h-12zM825 258h6v6h-6zM795 264h6v6h-6zM813 264h12v6h-12zM819 270h6v6h-6zM999 270h18v6h-18zM813 276h12v6h-12zM987 276h6v6h-6zM813 282h6v6h-6zM969 282h12v6h-12zM1035 282h6v6h-6zM957 288h6v6h-6zM759 294h6v6h-6zM933 294h12v6h-12zM915 300h6v6h-6zM885 306h12v6h-12zM717 312h6v6h-6zM867 312h6v6h-6zM855 318h6v6h-6zM849 324h6v6h-6zM705 354h6v6h-6zM831 354h6v6h-6zM705 360h6v6h-6zM771 378h6v6h-6zM717 384h12v6h-12zM879 444h6v6h-6zM867 492h6v6h-6zM765 498h6v6h-6zM897 498h6v6h-6zM915 504h6v6h-6zM927 510h6v6h-6zM933 516h6v6h-6zM939 522h6v6h-6zM945 534h6v6h-6zM753 540h6v6h-6zM753 546h6v6h-6zM1023 546h12v6h-12zM753 552h6v6h-6zM951 552h6v6h-6zM1035 552h6v6h-6zM753 558h6v6h-6zM951 558h6v6h-6zM1017 558h6v6h-6zM1035 558h6v6h-6zM951 564h6v6h-6zM951 570h6v6h-6zM951 576h6v6h-6zM951 582h6v6h-6zM951 588h6v6h-6zM1011 588h6v6h-6zM951 594h6v6h-6zM1011 594h6v6h-6zM945 600h6v6h-6zM1011 600h6v6h-6zM765 606h6v6h-6zM945 606h6v6h-6zM939 612h6v6h-6zM1005 612h6v6h-6zM777 618h6v6h-6zM933 618h6v6h-6zM795 624h6v6h-6zM927 624h6v6h-6zM807 630h6v6h-6zM921 630h6v6h-6zM909 636h6v6h-6zM993 636h6v6h-6zM831 642h6v6h-6zM891 642h6v6h-6zM993 642h6v6h-6zM981 654h6v6h-6zM975 660h6v6h-6zM969 666h6v6h-6zM1035 666h6v6h-6zM963 672h6v6h-6zM1017 684h6v6h-6zM987 696h6v6h-6zM957 702h6v6h-6zM1017 714h18v6h-18zM1035 720h6v6h-6zM969 726h6v6h-6zM969 732h6v6h-6zM969 738h6v6h-6zM969 744h6v6h-6zM975 750h6v6h-6zM981 756h6v6h-6zM1029 756h6v6h-6zM993 762h30v6h-30z"/>
<path fill="rgb(135,135,135)" d="M801 132h6v6h-6zM801 138h6v6h-6zM783 144h12v6h-12zM1005 156h6v6h-6zM939 162h6v6h-6zM969 162h12v6h-12zM933 168h6v6h-6zM981 168h6v6h-6zM927 174h6v6h-6zM981 174h12v6h-12zM999 174h6v6h-6zM927 180h6v6h-6zM981 180h24v6h-24zM903 186h24v6h-24zM981 186h24v6h-24zM879 192h6v6h-6zM969 192h24v6h-24zM867 198h6v6h-6zM951 198h18v6h-18zM975 198h6v6h-6zM951 204h12v6h-12zM975 204h6v6h-6zM849 210h6v6h-6zM957 210h6v6h-6zM975 210h6v6h-6zM957 216h6v6h-6zM975 216h6v6h-6zM957 222h6v6h-6zM837 228h6v6h-6zM957 228h6v6h-6zM957 234h12v6h-12zM993 234h18v6h-18zM963 240h12v6h-12zM999 240h12v6h-12zM831 246h6v6h-6zM975 246h36v6h-36zM1005 252h6v6h-6zM1005 258h6v6h-6zM825 264h6v6h-6zM999 264h12v6h-12zM813 270h6v6h-6zM825 270h6v6h-6zM987 270h12v6h-12zM789 276h6v6h-6zM975 276h12v6h-12zM1017 276h6v6h-6zM819 282h6v6h-6zM963 282h6v6h-6zM783 288h6v6h-6zM945 288h12v6h-12zM927 294h6v6h-6zM741 300h6v6h-6zM903 300h12v6h-12zM879 306h6v6h-6zM753 378h18v6h-18zM855 438h6v6h-6zM855 450h6v6h-6zM783 492h6v6h-6zM759 510h6v6h-6zM939 528h6v6h-6zM945 540h6v6h-6zM945 546h6v6h-6zM1023 552h6v6h-6zM1017 564h6v6h-6zM1035 564h6v6h-6zM759 588h6v6h-6zM945 588h6v6h-6zM945 594h6v6h-6zM939 606h6v6h-6zM1011 606h6v6h-6zM771 612h6v6h-6zM933 612h6v6h-6zM783 618h6v6h-6zM921 624h6v6h-6zM999 624h6v6h-6zM915 630h6v6h-6zM819 636h6v6h-6zM903 636h6v6h-6zM837 642h6v6h-6zM885 642h6v6h-6zM993 648h6v6h-6zM987 654h6v6h-6zM1029 672h6v6h-6zM1023 678h6v6h-6zM957 684h6v6h-6zM1011 684h6v6h-6zM999 690h6v6h-6zM963 702h12v6h-12zM993 720h6v6h-6zM1029 720h6v6h-6zM975 726h6v6h-6zM1035 726h6v6h-6zM975 732h6v6h-6zM975 744h6v6h-6zM981 750h6v6h-6zM1035 750h6v6h-6zM987 756h6v6h-6zM1023 756h6v6h-6z"/>
<path fill="rgb(136,136,136)" d="M1011 126h6v6h-6zM777 132h6v6h-6zM945 162h24v6h-24zM1005 162h6v6h-6zM975 168h6v6h-6zM1005 168h6v6h-6zM933 174h6v6h-6zM975 174h6v6h-6zM1005 174h6v6h-6zM933 180h6v6h-6zM975 180h6v6h-6zM1005 180h6v6h-6zM927 186h12v6h-12zM969 186h12v6h-12zM1005 186h6v6h-6zM885 192h6v6h-6zM927 192h42v6h-42zM993 192h6v6h-6zM939 198h12v6h-12zM981 198h6v6h-6zM861 204h6v6h-6zM945 204h6v6h-6zM951 210h6v6h-6zM951 216h6v6h-6zM843 222h6v6h-6zM951 222h6v6h-6zM981 222h6v6h-6zM987 228h6v6h-6zM837 234h6v6h-6zM1011 234h6v6h-6zM957 240h6v6h-6zM1011 240h6v6h-6zM957 246h18v6h-18zM1011 246h6v6h-6zM831 252h6v6h-6zM975 252h30v6h-30zM831 258h6v6h-6zM987 258h18v6h-18zM1011 258h6v6h-6zM807 264h6v6h-6zM987 264h12v6h-12zM1011 264h6v6h-6zM981 270h6v6h-6zM825 276h6v6h-6zM969 276h6v6h-6zM807 282h6v6h-6zM951 282h12v6h-12zM1023 282h12v6h-12zM807 288h12v6h-12zM933 288h12v6h-12zM765 294h12v6h-12zM915 294h12v6h-12zM897 300h6v6h-6zM729 306h6v6h-6zM873 306h6v6h-6zM861 312h6v6h-6zM843 342h6v6h-6zM813 360h6v6h-6zM801 366h6v6h-6zM789 372h6v6h-6zM711 378h6v6h-6zM741 378h12v6h-12zM873 450h6v6h-6zM861 492h6v6h-6zM945 552h6v6h-6zM1029 552h6v6h-6zM945 558h6v6h-6zM945 564h6v6h-6zM945 570h6v6h-6zM1017 570h6v6h-6zM1035 570h6v6h-6zM945 576h6v6h-6zM1017 576h6v6h-6zM945 582h6v6h-6zM765 600h6v6h-6zM939 600h6v6h-6zM789 618h6v6h-6zM927 618h6v6h-6zM1005 618h6v6h-6zM801 624h6v6h-6zM813 630h6v6h-6zM909 630h6v6h-6zM825 636h6v6h-6zM897 636h6v6h-6zM843 642h12v6h-12zM873 642h12v6h-12zM981 660h6v6h-6zM1035 660h6v6h-6zM963 678h6v6h-6zM957 690h6v6h-6zM957 696h6v6h-6zM999 720h12v6h-12zM1017 720h12v6h-12zM981 726h6v6h-6zM1029 726h6v6h-6zM1035 732h6v6h-6zM975 738h6v6h-6zM1035 738h6v6h-6zM1035 744h6v6h-6zM1029 750h6v6h-6zM993 756h30v6h-30z"/>
<path fill="rgb(137,137,137)" d="M795 132h6v6h-6zM1011 132h6v6h-6zM777 138h6v6h-6zM939 168h6v6h-6zM963 168h12v6h-12zM939 174h6v6h-6zM969 174h6v6h-6zM939 180h6v6h-6zM969 180h6v6h-6zM939 186h30v6h-30zM891 192h36v6h-36zM999 192h6v6h-6zM873 198h6v6h-6zM933 198h6v6h-6zM939 204h6v6h-6zM981 204h6v6h-6zM855 210h6v6h-6zM945 210h6v6h-6zM849 216h6v6h-6zM951 228h6v6h-6zM951 234h6v6h-6zM837 240h6v6h-6zM951 240h6v6h-6zM951 246h6v6h-6zM957 252h18v6h-18zM1011 252h6v6h-6zM969 258h18v6h-18zM801 264h6v6h-6zM831 264h6v6h-6zM975 264h12v6h-12zM807 270h6v6h-6zM969 270h12v6h-12zM1017 270h6v6h-6zM807 276h6v6h-6zM957 276h12v6h-12zM1035 276h6v6h-6zM789 282h6v6h-6zM945 282h6v6h-6zM789 288h6v6h-6zM801 288h6v6h-6zM927 288h6v6h-6zM777 294h6v6h-6zM909 294h6v6h-6zM891 300h6v6h-6zM849 318h6v6h-6zM837 348h6v6h-6zM825 354h6v6h-6zM735 378h6v6h-6zM873 438h6v6h-6zM855 444h6v6h-6zM789 492h6v6h-6zM891 498h6v6h-6zM909 504h6v6h-6zM921 510h6v6h-6zM759 516h6v6h-6zM927 516h6v6h-6zM933 522h6v6h-6zM939 534h6v6h-6zM1023 558h12v6h-12zM1035 576h6v6h-6zM759 582h6v6h-6zM1017 582h6v6h-6zM1017 588h6v6h-6zM939 594h6v6h-6zM933 606h6v6h-6zM777 612h6v6h-6zM927 612h6v6h-6zM1011 612h6v6h-6zM795 618h6v6h-6zM921 618h6v6h-6zM915 624h6v6h-6zM999 630h6v6h-6zM891 636h6v6h-6zM855 642h18v6h-18zM993 654h6v6h-6zM1035 654h6v6h-6zM975 666h6v6h-6zM969 672h6v6h-6zM1017 678h6v6h-6zM1011 720h6v6h-6zM987 726h6v6h-6zM1023 726h6v6h-6zM981 732h6v6h-6zM1029 732h6v6h-6zM981 738h6v6h-6zM981 744h6v6h-6zM1029 744h6v6h-6zM987 750h12v6h-12zM1023 750h6v6h-6z"/>
<path fill="rgb(138,138,138)" d="M783 132h12v6h-12zM795 138h6v6h-6zM945 168h18v6h-18zM945 174h6v6h-6zM963 174h6v6h-6zM945 180h6v6h-6zM957 180h12v6h-12zM1005 192h6v6h-6zM927 198h6v6h-6zM987 198h6v6h-6zM981 210h6v6h-6zM945 216h6v6h-6zM981 216h6v6h-6zM945 222h6v6h-6zM843 228h6v6h-6zM993 228h6v6h-6zM1011 228h6v6h-6zM837 246h6v6h-6zM951 252h6v6h-6zM957 258h12v6h-12zM963 264h12v6h-12zM795 270h6v6h-6zM831 270h6v6h-6zM957 270h12v6h-12zM951 276h6v6h-6zM801 282h6v6h-6zM825 282h6v6h-6zM939 282h6v6h-6zM795 288h6v6h-6zM819 288h6v6h-6zM921 288h6v6h-6zM783 294h6v6h-6zM801 294h12v6h-12zM903 294h6v6h-6zM885 300h6v6h-6zM867 306h6v6h-6zM843 330h6v6h-6zM843 336h6v6h-6zM783 372h6v6h-6zM729 378h6v6h-6zM939 540h6v6h-6zM939 546h6v6h-6zM1023 564h12v6h-12zM759 576h6v6h-6zM939 582h6v6h-6zM1035 582h6v6h-6zM939 588h6v6h-6zM1035 588h6v6h-6zM1017 594h6v6h-6zM933 600h6v6h-6zM1017 600h6v6h-6zM771 606h6v6h-6zM783 612h6v6h-6zM807 624h6v6h-6zM819 630h6v6h-6zM903 630h6v6h-6zM831 636h6v6h-6zM999 636h6v6h-6zM1029 666h6v6h-6zM993 726h12v6h-12zM1017 726h6v6h-6zM987 732h6v6h-6zM987 738h6v6h-6zM1029 738h6v6h-6zM987 744h6v6h-6zM999 750h6v6h-6zM1011 750h12v6h-12z"/>
<path fill="rgb(139,139,139)" d="M783 138h12v6h-12zM1011 138h6v6h-6zM951 174h12v6h-12zM951 180h6v6h-6zM879 198h6v6h-6zM915 198h12v6h-12zM867 204h6v6h-6zM933 204h6v6h-6zM939 210h6v6h-6zM849 222h6v6h-6zM945 228h6v6h-6zM999 228h12v6h-12zM843 234h6v6h-6zM945 234h6v6h-6zM1017 234h6v6h-6zM945 240h6v6h-6zM1017 240h6v6h-6zM945 246h6v6h-6zM837 252h6v6h-6zM945 252h6v6h-6zM951 258h6v6h-6zM951 264h12v6h-12zM1017 264h6v6h-6zM801 270h6v6h-6zM951 270h6v6h-6zM795 276h12v6h-12zM939 276h12v6h-12zM1023 276h6v6h-6zM795 282h6v6h-6zM927 282h12v6h-12zM915 288h6v6h-6zM789 294h12v6h-12zM897 294h6v6h-6zM747 300h6v6h-6zM879 300h6v6h-6zM855 312h6v6h-6zM711 324h6v6h-6zM843 324h6v6h-6zM717 378h12v6h-12zM861 450h6v6h-6zM855 492h6v6h-6zM771 498h6v6h-6zM765 504h6v6h-6zM759 522h6v6h-6zM933 528h6v6h-6zM939 552h6v6h-6zM939 558h6v6h-6zM939 570h6v6h-6zM1023 570h12v6h-12zM939 576h6v6h-6zM765 594h6v6h-6zM933 594h6v6h-6zM1035 594h6v6h-6zM1035 600h6v6h-6zM927 606h6v6h-6zM1017 606h6v6h-6zM1035 606h6v6h-6zM789 612h6v6h-6zM1035 612h6v6h-6zM1035 618h6v6h-6zM909 624h6v6h-6zM1035 624h6v6h-6zM1035 630h6v6h-6zM837 636h6v6h-6zM885 636h6v6h-6zM1035 642h6v6h-6zM1035 648h6v6h-6zM987 660h6v6h-6zM1023 672h6v6h-6zM1005 684h6v6h-6zM963 696h6v6h-6zM1005 726h12v6h-12zM993 732h6v6h-6zM1023 732h6v6h-6zM993 738h6v6h-6zM1023 738h6v6h-6zM993 744h6v6h-6zM1017 744h12v6h-12zM1005 750h6v6h-6z"/>
<path fill="rgb(140,140,140)" d="M1011 144h6v6h-6zM1011 150h6v6h-6zM885 198h6v6h-6zM909 198h6v6h-6zM927 204h6v6h-6zM861 210h6v6h-6zM855 216h6v6h-6zM939 216h6v6h-6zM987 222h6v6h-6zM1035 222h6v6h-6zM1017 228h6v6h-6zM1035 228h6v6h-6zM1035 234h6v6h-6zM1017 246h6v6h-6zM837 258h6v6h-6zM945 258h6v6h-6zM945 264h6v6h-6zM939 270h12v6h-12zM1035 270h6v6h-6zM831 276h6v6h-6zM933 276h6v6h-6zM1029 276h6v6h-6zM909 288h6v6h-6zM813 294h6v6h-6zM819 354h6v6h-6zM807 360h6v6h-6zM795 366h6v6h-6zM777 372h6v6h-6zM861 438h6v6h-6zM873 444h6v6h-6zM867 450h6v6h-6zM795 492h6v6h-6zM759 528h6v6h-6zM933 534h6v6h-6zM939 564h6v6h-6zM759 570h6v6h-6zM1023 576h6v6h-6zM777 606h6v6h-6zM921 612h6v6h-6zM801 618h6v6h-6zM915 618h6v6h-6zM897 630h6v6h-6zM843 636h6v6h-6zM879 636h6v6h-6zM1035 636h6v6h-6zM999 642h6v6h-6zM999 648h6v6h-6zM1011 678h6v6h-6zM963 684h6v6h-6zM981 696h6v6h-6zM999 732h24v6h-24zM999 738h6v6h-6zM1017 738h6v6h-6zM999 744h18v6h-18z"/>
<path fill="rgb(141,141,141)" d="M1011 156h6v6h-6zM1011 180h6v6h-6zM1011 186h6v6h-6zM1011 192h6v6h-6zM891 198h18v6h-18zM993 198h6v6h-6zM873 204h6v6h-6zM933 210h6v6h-6zM1035 216h6v6h-6zM939 222h6v6h-6zM843 240h6v6h-6zM1035 240h6v6h-6zM939 252h6v6h-6zM1017 252h6v6h-6zM939 258h6v6h-6zM1017 258h6v6h-6zM939 264h6v6h-6zM921 282h6v6h-6zM891 294h6v6h-6zM873 300h6v6h-6zM735 306h6v6h-6zM861 306h6v6h-6zM711 372h6v6h-6zM867 438h6v6h-6zM915 510h6v6h-6zM927 522h6v6h-6zM759 534h6v6h-6zM759 564h6v6h-6zM1029 576h6v6h-6zM1023 582h12v6h-12zM765 588h6v6h-6zM933 588h6v6h-6zM771 600h6v6h-6zM927 600h6v6h-6zM795 612h6v6h-6zM1017 612h6v6h-6zM813 624h6v6h-6zM1005 624h6v6h-6zM825 630h6v6h-6zM849 636h30v6h-30zM963 690h6v6h-6zM993 690h6v6h-6zM1005 738h12v6h-12z"/>
<path fill="rgb(142,142,142)" d="M1011 162h6v6h-6zM1011 168h6v6h-6zM1011 174h6v6h-6zM921 204h6v6h-6zM987 204h6v6h-6zM1017 222h6v6h-6zM849 228h6v6h-6zM939 228h6v6h-6zM1023 228h6v6h-6zM939 234h6v6h-6zM939 240h6v6h-6zM843 246h6v6h-6zM939 246h6v6h-6zM837 264h6v6h-6zM1035 264h6v6h-6zM933 270h6v6h-6zM1023 270h6v6h-6zM927 276h6v6h-6zM915 282h6v6h-6zM903 288h6v6h-6zM723 312h6v6h-6zM843 318h6v6h-6zM837 342h6v6h-6zM831 348h6v6h-6zM747 372h30v6h-30zM849 492h6v6h-6zM885 498h6v6h-6zM903 504h6v6h-6zM765 510h6v6h-6zM921 516h6v6h-6zM759 540h6v6h-6zM933 540h6v6h-6zM759 546h6v6h-6zM759 552h6v6h-6zM759 558h6v6h-6zM933 582h6v6h-6zM1023 588h12v6h-12zM1023 594h6v6h-6zM1023 600h6v6h-6zM783 606h6v6h-6zM1011 618h6v6h-6zM903 624h6v6h-6zM891 630h6v6h-6zM981 666h6v6h-6zM969 696h6v6h-6z"/>
<path fill="rgb(143,143,143)" d="M999 198h18v6h-18zM915 204h6v6h-6zM927 210h6v6h-6zM1035 210h6v6h-6zM933 216h6v6h-6zM1023 222h12v6h-12zM1029 228h6v6h-6zM1023 234h6v6h-6zM1035 246h6v6h-6zM1035 252h6v6h-6zM933 258h6v6h-6zM1035 258h6v6h-6zM933 264h6v6h-6zM837 270h6v6h-6zM927 270h6v6h-6zM921 276h6v6h-6zM825 288h6v6h-6zM885 294h6v6h-6zM795 300h12v6h-12zM849 312h6v6h-6zM801 492h6v6h-6zM777 498h6v6h-6zM933 546h6v6h-6zM1029 594h6v6h-6zM1029 600h6v6h-6zM789 606h6v6h-6zM921 606h6v6h-6zM1023 606h12v6h-12zM915 612h6v6h-6zM1029 612h6v6h-6zM807 618h6v6h-6zM909 618h6v6h-6zM831 630h6v6h-6zM999 654h6v6h-6zM1029 660h6v6h-6zM1017 672h6v6h-6zM969 678h6v6h-6zM975 696h6v6h-6z"/>
<path fill="rgb(144,144,144)" d="M879 204h6v6h-6zM867 210h6v6h-6zM861 216h6v6h-6zM987 216h6v6h-6zM855 222h6v6h-6zM1011 222h6v6h-6zM849 234h6v6h-6zM1029 234h6v6h-6zM1023 240h6v6h-6zM843 252h6v6h-6zM1029 270h6v6h-6zM831 282h6v6h-6zM909 282h6v6h-6zM897 288h6v6h-6zM819 294h6v6h-6zM753 300h6v6h-6zM789 300h6v6h-6zM807 300h6v6h-6zM867 300h6v6h-6zM813 354h6v6h-6zM789 366h6v6h-6zM741 372h6v6h-6zM861 444h6v6h-6zM927 528h6v6h-6zM933 552h6v6h-6zM933 570h6v6h-6zM933 576h6v6h-6zM765 582h6v6h-6zM771 594h6v6h-6zM927 594h6v6h-6zM777 600h6v6h-6zM1023 612h6v6h-6zM1029 618h6v6h-6zM819 624h6v6h-6zM885 630h6v6h-6zM993 660h6v6h-6zM975 672h6v6h-6z"/>
<path fill="rgb(145,145,145)" d="M1017 126h6v6h-6zM885 204h6v6h-6zM909 204h6v6h-6zM987 210h6v6h-6zM1029 216h6v6h-6zM933 222h6v6h-6zM993 222h6v6h-6zM1029 240h6v6h-6zM933 252h6v6h-6zM927 264h6v6h-6zM1023 264h6v6h-6zM915 276h6v6h-6zM879 294h6v6h-6zM777 300h12v6h-12zM801 360h6v6h-6zM735 372h6v6h-6zM867 444h6v6h-6zM843 492h6v6h-6zM771 504h6v6h-6zM765 516h6v6h-6zM933 558h6v6h-6zM933 564h6v6h-6zM801 612h6v6h-6zM897 624h6v6h-6zM837 630h6v6h-6zM1023 666h6v6h-6z"/>
<path fill="rgb(146,146,146)" d="M891 204h18v6h-18zM1035 204h6v6h-6zM921 210h6v6h-6zM1017 216h12v6h-12zM849 240h6v6h-6zM933 246h6v6h-6zM1023 246h6v6h-6zM843 258h6v6h-6zM921 270h6v6h-6zM837 276h6v6h-6zM903 282h6v6h-6zM891 288h6v6h-6zM741 306h6v6h-6zM855 306h6v6h-6zM717 318h6v6h-6zM837 324h6v6h-6zM837 330h6v6h-6zM837 336h6v6h-6zM825 348h6v6h-6zM711 366h6v6h-6zM717 372h6v6h-6zM729 372h6v6h-6zM807 492h6v6h-6zM921 522h6v6h-6zM927 534h6v6h-6zM765 576h6v6h-6zM927 588h6v6h-6zM783 600h6v6h-6zM921 600h6v6h-6zM1029 624h6v6h-6zM843 630h6v6h-6zM879 630h6v6h-6zM999 684h6v6h-6z"/>
<path fill="rgb(147,147,147)" d="M1017 132h6v6h-6zM1017 198h6v6h-6zM873 210h6v6h-6zM927 216h6v6h-6zM1005 222h6v6h-6zM855 228h6v6h-6zM933 228h6v6h-6zM933 234h6v6h-6zM933 240h6v6h-6zM1029 246h6v6h-6zM1023 252h6v6h-6zM927 258h6v6h-6zM1023 258h6v6h-6zM1029 264h6v6h-6zM759 300h6v6h-6zM771 300h6v6h-6zM813 300h6v6h-6zM729 312h6v6h-6zM723 372h6v6h-6zM879 498h6v6h-6zM909 510h6v6h-6zM771 588h6v6h-6zM795 606h6v6h-6zM813 618h6v6h-6zM903 618h6v6h-6zM1017 618h6v6h-6zM825 624h6v6h-6zM873 630h6v6h-6zM1005 630h6v6h-6zM1005 678h6v6h-6z"/>
<path fill="rgb(148,148,148)" d="M1017 192h6v6h-6zM1035 198h6v6h-6zM993 204h6v6h-6zM1011 204h12v6h-12zM915 210h6v6h-6zM1017 210h18v6h-18zM999 222h6v6h-6zM849 246h6v6h-6zM843 264h6v6h-6zM909 276h6v6h-6zM765 300h6v6h-6zM711 330h6v6h-6zM807 354h6v6h-6zM783 366h6v6h-6zM837 492h6v6h-6zM783 498h6v6h-6zM897 504h6v6h-6zM915 516h6v6h-6zM765 522h6v6h-6zM765 570h6v6h-6zM777 594h6v6h-6zM789 600h6v6h-6zM915 606h6v6h-6zM909 612h6v6h-6zM1023 618h6v6h-6zM891 624h6v6h-6zM849 630h6v6h-6zM867 630h6v6h-6zM1029 654h6v6h-6zM1011 672h6v6h-6zM969 684h6v6h-6zM969 690h6v6h-6zM987 690h6v6h-6z"/>
<path fill="rgb(149,149,149)" d="M1017 138h6v6h-6zM1017 186h6v6h-6zM867 216h6v6h-6zM861 222h6v6h-6zM927 252h6v6h-6zM1029 252h6v6h-6zM1029 258h6v6h-6zM921 264h6v6h-6zM915 270h6v6h-6zM831 288h6v6h-6zM885 288h6v6h-6zM873 294h6v6h-6zM861 300h6v6h-6zM843 312h6v6h-6zM819 348h6v6h-6zM813 492h6v6h-6zM831 492h6v6h-6zM927 540h6v6h-6zM927 582h6v6h-6zM855 630h12v6h-12z"/>
<path fill="rgb(150,150,150)" d="M1017 144h6v6h-6zM1017 180h6v6h-6zM1023 204h6v6h-6zM879 210h6v6h-6zM909 210h6v6h-6zM1011 216h6v6h-6zM855 234h6v6h-6zM837 282h6v6h-6zM897 282h6v6h-6zM825 294h6v6h-6zM837 318h6v6h-6zM831 342h6v6h-6zM795 360h6v6h-6zM777 366h6v6h-6zM819 492h12v6h-12zM771 510h6v6h-6zM765 528h6v6h-6zM765 564h6v6h-6zM921 594h6v6h-6zM807 612h6v6h-6zM1011 624h6v6h-6zM1029 630h6v6h-6zM999 660h6v6h-6zM987 666h6v6h-6z"/>
<path fill="rgb(151,151,151)" d="M1035 126h6v6h-6zM1035 192h6v6h-6zM1005 204h6v6h-6zM1029 204h6v6h-6zM1011 210h6v6h-6zM921 216h6v6h-6zM927 222h6v6h-6zM849 252h6v6h-6zM843 270h6v6h-6zM795 306h12v6h-12zM849 306h6v6h-6zM711 360h6v6h-6zM777 504h6v6h-6zM921 528h6v6h-6zM765 534h6v6h-6zM927 546h6v6h-6zM765 558h6v6h-6zM927 576h6v6h-6zM771 582h6v6h-6zM783 594h6v6h-6zM831 624h6v6h-6z"/>
<path fill="rgb(152,152,152)" d="M1017 150h6v6h-6zM1017 156h6v6h-6zM1017 168h6v6h-6zM1017 174h6v6h-6zM1023 198h6v6h-6zM999 204h6v6h-6zM885 210h6v6h-6zM903 210h6v6h-6zM927 246h6v6h-6zM921 258h6v6h-6zM903 276h6v6h-6zM813 348h6v6h-6zM753 366h12v6h-12zM771 366h6v6h-6zM765 540h6v6h-6zM765 546h6v6h-6zM765 552h6v6h-6zM927 552h6v6h-6zM927 570h6v6h-6zM777 588h6v6h-6zM801 606h6v6h-6zM819 618h6v6h-6zM897 618h6v6h-6zM885 624h6v6h-6zM1029 648h6v6h-6z"/>
<path fill="rgb(153,153,153)" d="M1035 132h6v6h-6zM1017 162h6v6h-6zM891 210h12v6h-12zM873 216h6v6h-6zM993 216h6v6h-6zM861 228h6v6h-6zM927 228h6v6h-6zM855 240h6v6h-6zM879 288h6v6h-6zM867 294h6v6h-6zM819 300h6v6h-6zM789 306h6v6h-6zM807 306h6v6h-6zM735 312h6v6h-6zM747 366h6v6h-6zM765 366h6v6h-6zM873 498h6v6h-6zM927 558h6v6h-6zM927 564h6v6h-6zM795 600h6v6h-6zM915 600h6v6h-6zM1005 636h6v6h-6zM1029 636h6v6h-6zM1017 666h6v6h-6zM975 678h6v6h-6zM975 690h12v6h-12z"/>
<path fill="rgb(154,154,154)" d="M1023 126h6v6h-6zM1035 186h6v6h-6zM1029 198h6v6h-6zM993 210h6v6h-6zM867 222h6v6h-6zM927 234h6v6h-6zM927 240h6v6h-6zM849 258h6v6h-6zM915 264h6v6h-6zM909 270h6v6h-6zM843 276h6v6h-6zM891 282h6v6h-6zM855 300h6v6h-6zM747 306h6v6h-6zM831 324h6v6h-6zM711 336h6v6h-6zM831 336h6v6h-6zM801 354h6v6h-6zM741 366h6v6h-6zM789 498h6v6h-6zM771 516h6v6h-6zM771 576h6v6h-6zM921 588h6v6h-6zM789 594h6v6h-6zM903 612h6v6h-6zM837 624h6v6h-6zM1023 624h6v6h-6zM1029 642h6v6h-6zM981 672h6v6h-6z"/>
<path fill="rgb(155,155,155)" d="M1023 192h6v6h-6zM915 216h6v6h-6zM783 306h6v6h-6zM723 318h6v6h-6zM831 330h6v6h-6zM825 342h6v6h-6zM789 360h6v6h-6zM717 366h6v6h-6zM891 504h6v6h-6zM903 510h6v6h-6zM915 522h6v6h-6zM921 534h6v6h-6zM909 606h6v6h-6zM879 624h6v6h-6zM1005 654h6v6h-6zM1023 660h6v6h-6z"/>
<path fill="rgb(156,156,156)" d="M1035 138h6v6h-6zM1035 180h6v6h-6zM1005 216h6v6h-6zM921 222h6v6h-6zM855 246h6v6h-6zM921 252h6v6h-6zM837 288h6v6h-6zM837 312h6v6h-6zM807 348h6v6h-6zM711 354h6v6h-6zM729 366h12v6h-12zM777 582h6v6h-6zM783 588h6v6h-6zM813 612h6v6h-6zM843 624h6v6h-6zM1005 642h6v6h-6zM1005 648h6v6h-6zM993 666h6v6h-6zM1005 672h6v6h-6zM993 684h6v6h-6z"/>
<path fill="rgb(157,157,157)" d="M1029 126h6v6h-6zM1023 132h6v6h-6zM1029 192h6v6h-6zM879 216h6v6h-6zM861 234h6v6h-6zM849 264h6v6h-6zM831 294h6v6h-6zM813 306h6v6h-6zM843 306h6v6h-6zM831 318h6v6h-6zM711 342h6v6h-6zM723 366h6v6h-6zM909 516h6v6h-6zM771 522h6v6h-6zM771 570h6v6h-6zM825 618h6v6h-6zM891 618h6v6h-6zM873 624h6v6h-6zM1017 624h6v6h-6zM1005 660h6v6h-6zM1011 666h6v6h-6zM975 684h6v6h-6z"/>
<path fill="rgb(158,158,158)" d="M1035 144h6v6h-6zM1035 174h6v6h-6zM1023 186h6v6h-6zM1005 210h6v6h-6zM909 216h6v6h-6zM999 216h6v6h-6zM897 276h6v6h-6zM843 282h6v6h-6zM873 288h6v6h-6zM861 294h6v6h-6zM777 306h6v6h-6zM717 324h6v6h-6zM711 348h6v6h-6zM777 510h6v6h-6zM921 540h6v6h-6zM921 582h6v6h-6zM849 624h6v6h-6zM999 678h6v6h-6z"/>
<path fill="rgb(159,159,159)" d="M1035 150h6v6h-6zM1035 168h6v6h-6zM885 282h6v6h-6zM825 300h6v6h-6zM849 300h6v6h-6zM819 342h6v6h-6zM783 360h6v6h-6zM783 504h6v6h-6zM771 564h6v6h-6zM915 594h6v6h-6zM855 624h6v6h-6zM867 624h6v6h-6zM999 666h12v6h-12z"/>
<path fill="rgb(160,160,160)" d="M1029 132h6v6h-6zM1023 138h6v6h-6zM1035 156h6v6h-6zM1035 162h6v6h-6zM1023 180h6v6h-6zM1029 186h6v6h-6zM999 210h6v6h-6zM885 216h6v6h-6zM903 216h6v6h-6zM873 222h6v6h-6zM867 228h6v6h-6zM855 252h6v6h-6zM915 258h6v6h-6zM849 270h6v6h-6zM903 270h6v6h-6zM795 354h6v6h-6zM867 498h6v6h-6zM771 528h6v6h-6zM777 576h6v6h-6zM807 606h6v6h-6zM861 624h6v6h-6z"/>
<path fill="rgb(161,161,161)" d="M891 216h6v6h-6zM921 228h6v6h-6zM861 240h6v6h-6zM921 246h6v6h-6zM909 264h6v6h-6zM753 306h6v6h-6zM729 318h6v6h-6zM825 336h6v6h-6zM813 342h6v6h-6zM801 348h6v6h-6zM915 528h6v6h-6zM771 534h6v6h-6zM771 558h6v6h-6zM921 576h6v6h-6zM783 582h6v6h-6zM789 588h6v6h-6zM795 594h6v6h-6zM801 600h6v6h-6z"/>
<path fill="rgb(162,162,162)" d="M1023 144h6v6h-6zM1023 174h6v6h-6zM897 216h6v6h-6zM915 222h6v6h-6zM843 288h6v6h-6zM837 294h6v6h-6zM855 294h6v6h-6zM771 306h6v6h-6zM819 306h6v6h-6zM741 312h6v6h-6zM795 312h12v6h-12zM825 324h6v6h-6zM825 330h6v6h-6zM777 360h6v6h-6zM921 546h6v6h-6zM771 552h6v6h-6zM897 612h6v6h-6zM831 618h6v6h-6zM1011 630h6v6h-6z"/>
<path fill="rgb(163,163,163)" d="M1029 138h6v6h-6zM1023 150h6v6h-6zM1029 180h6v6h-6zM921 240h6v6h-6zM867 288h6v6h-6zM831 300h6v6h-6zM843 300h6v6h-6zM837 306h6v6h-6zM807 312h6v6h-6zM831 312h6v6h-6zM807 342h6v6h-6zM795 498h6v6h-6zM777 516h6v6h-6zM771 540h6v6h-6zM771 546h6v6h-6zM909 600h6v6h-6zM819 612h6v6h-6zM885 618h6v6h-6zM1023 630h6v6h-6zM987 672h6v6h-6zM987 684h6v6h-6z"/>
<path fill="rgb(164,164,164)" d="M1023 156h6v6h-6zM1023 162h6v6h-6zM1023 168h6v6h-6zM921 234h6v6h-6zM855 258h6v6h-6zM849 276h6v6h-6zM891 276h6v6h-6zM825 318h6v6h-6zM717 360h6v6h-6zM771 360h6v6h-6zM921 552h6v6h-6zM777 570h6v6h-6zM921 570h6v6h-6zM903 606h6v6h-6zM1011 660h6v6h-6zM999 672h6v6h-6zM981 678h6v6h-6zM981 684h6v6h-6z"/>
<path fill="rgb(165,165,165)" d="M1029 144h6v6h-6zM1029 174h6v6h-6zM879 222h6v6h-6zM867 234h6v6h-6zM879 282h6v6h-6zM843 294h12v6h-12zM837 300h6v6h-6zM759 306h12v6h-12zM825 306h12v6h-12zM789 312h6v6h-6zM819 336h6v6h-6zM789 354h6v6h-6zM753 360h18v6h-18zM885 504h6v6h-6zM897 510h6v6h-6zM921 558h6v6h-6zM921 564h6v6h-6zM1017 660h6v6h-6z"/>
<path fill="rgb(166,166,166)" d="M861 246h6v6h-6zM915 252h6v6h-6zM849 282h6v6h-6zM813 312h6v6h-6zM813 336h6v6h-6zM747 360h6v6h-6zM909 522h6v6h-6zM915 588h6v6h-6zM1023 654h6v6h-6z"/>
<path fill="rgb(167,167,167)" d="M1029 150h6v6h-6zM1029 168h6v6h-6zM909 222h6v6h-6zM873 228h6v6h-6zM849 288h6v6h-6zM861 288h6v6h-6zM825 312h6v6h-6zM819 330h6v6h-6zM801 342h6v6h-6zM795 348h6v6h-6zM777 522h6v6h-6zM777 564h6v6h-6zM783 576h6v6h-6zM837 618h6v6h-6zM993 672h6v6h-6zM993 678h6v6h-6z"/>
<path fill="rgb(168,168,168)" d="M1029 156h6v6h-6zM1029 162h6v6h-6zM897 270h6v6h-6zM855 288h6v6h-6zM783 312h6v6h-6zM819 312h6v6h-6zM723 324h6v6h-6zM819 324h6v6h-6zM807 336h6v6h-6zM723 360h6v6h-6zM741 360h6v6h-6zM861 498h6v6h-6zM783 510h6v6h-6zM915 534h6v6h-6zM879 618h6v6h-6z"/>
<path fill="rgb(169,169,169)" d="M885 222h6v6h-6zM915 228h6v6h-6zM855 264h6v6h-6zM735 318h6v6h-6zM819 318h6v6h-6zM717 330h6v6h-6zM903 516h6v6h-6zM789 582h6v6h-6zM813 606h6v6h-6z"/>
<path fill="rgb(170,170,170)" d="M903 222h6v6h-6zM909 258h6v6h-6zM873 282h6v6h-6zM813 330h6v6h-6zM783 354h6v6h-6zM729 360h12v6h-12zM777 558h6v6h-6zM987 678h6v6h-6z"/>
<path fill="rgb(171,171,171)" d="M891 222h6v6h-6zM867 240h6v6h-6zM903 264h6v6h-6zM801 318h18v6h-18zM813 324h6v6h-6zM789 504h6v6h-6zM777 528h6v6h-6zM795 588h6v6h-6zM825 612h6v6h-6zM891 612h6v6h-6zM843 618h6v6h-6zM1017 630h6v6h-6z"/>
<path fill="rgb(172,172,172)" d="M897 222h6v6h-6zM915 246h6v6h-6zM861 252h6v6h-6zM855 270h6v6h-6zM885 276h6v6h-6zM855 282h6v6h-6zM747 312h6v6h-6zM807 330h6v6h-6zM801 336h6v6h-6zM717 354h6v6h-6zM801 498h6v6h-6zM777 552h6v6h-6zM783 570h6v6h-6zM915 582h6v6h-6zM873 618h6v6h-6zM1023 636h6v6h-6zM1011 654h6v6h-6z"/>
<path fill="rgb(173,173,173)" d="M879 228h6v6h-6zM855 276h6v6h-6zM777 312h6v6h-6zM795 318h6v6h-6zM795 342h6v6h-6zM789 348h6v6h-6zM777 534h6v6h-6zM777 540h6v6h-6zM777 546h6v6h-6zM801 594h6v6h-6zM909 594h6v6h-6zM807 600h6v6h-6z"/>
<path fill="rgb(174,174,174)" d="M873 234h6v6h-6zM915 234h6v6h-6zM867 282h6v6h-6zM807 324h6v6h-6zM777 354h6v6h-6zM915 540h6v6h-6zM849 618h6v6h-6zM1011 636h6v6h-6zM1023 648h6v6h-6z"/>
<path fill="rgb(175,175,175)" d="M915 240h6v6h-6zM861 282h6v6h-6zM855 498h6v6h-6zM867 618h6v6h-6z"/>
<path fill="rgb(176,176,176)" d="M729 324h6v6h-6zM801 324h6v6h-6zM801 330h6v6h-6zM717 336h6v6h-6zM879 504h6v6h-6zM783 516h6v6h-6zM855 618h6v6h-6z"/>
<path fill="rgb(177,177,177)" d="M909 228h6v6h-6zM789 318h6v6h-6zM771 354h6v6h-6zM909 528h6v6h-6zM783 564h6v6h-6zM789 576h6v6h-6zM903 600h6v6h-6zM897 606h6v6h-6zM861 618h6v6h-6zM1023 642h6v6h-6z"/>
<path fill="rgb(178,178,178)" d="M867 246h6v6h-6zM861 258h6v6h-6zM891 270h6v6h-6zM771 312h6v6h-6zM741 318h6v6h-6zM795 336h6v6h-6zM717 348h6v6h-6zM765 354h6v6h-6zM915 576h6v6h-6zM1017 654h6v6h-6z"/>
<path fill="rgb(179,179,179)" d="M885 228h6v6h-6zM909 252h6v6h-6zM879 276h6v6h-6zM717 342h6v6h-6zM783 348h6v6h-6zM759 354h6v6h-6zM891 510h6v6h-6zM915 546h6v6h-6zM831 612h6v6h-6zM1011 648h6v6h-6z"/>
<path fill="rgb(180,180,180)" d="M753 312h6v6h-6zM795 324h6v6h-6zM723 330h6v6h-6zM789 342h6v6h-6zM723 354h6v6h-6zM753 354h6v6h-6zM1011 642h6v6h-6z"/>
<path fill="rgb(181,181,181)" d="M861 276h6v6h-6zM795 330h6v6h-6zM747 354h6v6h-6zM807 498h6v6h-6zM783 558h6v6h-6zM819 606h6v6h-6zM885 612h6v6h-6z"/>
<path fill="rgb(182,182,182)" d="M903 228h6v6h-6zM873 240h6v6h-6zM861 264h6v6h-6zM897 264h6v6h-6zM783 318h6v6h-6zM783 522h6v6h-6z"/>
<path fill="rgb(183,183,183)" d="M891 228h6v6h-6zM879 234h6v6h-6zM903 258h6v6h-6zM861 270h6v6h-6zM765 312h6v6h-6zM729 354h6v6h-6zM849 498h6v6h-6zM915 552h6v6h-6zM915 570h6v6h-6zM795 582h6v6h-6z"/>
<path fill="rgb(184,184,184)" d="M897 228h6v6h-6zM873 276h6v6h-6zM735 324h6v6h-6zM777 348h6v6h-6zM741 354h6v6h-6zM903 522h6v6h-6zM783 552h6v6h-6zM789 570h6v6h-6zM909 588h6v6h-6zM1017 636h6v6h-6z"/>
<path fill="rgb(185,185,185)" d="M909 234h6v6h-6zM867 276h6v6h-6zM759 312h6v6h-6zM789 336h6v6h-6zM915 558h6v6h-6zM915 564h6v6h-6z"/>
<path fill="rgb(186,186,186)" d="M909 246h6v6h-6zM867 252h6v6h-6zM789 324h6v6h-6zM735 354h6v6h-6zM789 510h6v6h-6zM897 516h6v6h-6zM783 528h6v6h-6zM783 546h6v6h-6z"/>
<path fill="rgb(187,187,187)" d="M783 342h6v6h-6zM783 534h6v6h-6zM837 612h6v6h-6z"/>
<path fill="rgb(188,188,188)" d="M909 240h6v6h-6zM885 270h6v6h-6zM747 318h6v6h-6zM777 318h6v6h-6zM723 348h6v6h-6zM795 504h6v6h-6zM909 534h6v6h-6zM783 540h6v6h-6z"/>
<path fill="rgb(189,189,189)" d="M729 330h6v6h-6zM789 330h6v6h-6zM723 336h6v6h-6zM771 348h6v6h-6zM813 498h6v6h-6zM843 498h6v6h-6zM873 504h6v6h-6zM801 588h6v6h-6zM813 600h6v6h-6zM1017 648h6v6h-6z"/>
<path fill="rgb(190,190,190)" d="M885 234h6v6h-6z"/>
<path fill="rgb(191,191,191)" d="M807 594h6v6h-6zM879 612h6v6h-6zM1017 642h6v6h-6z"/>
<path fill="rgb(192,192,192)" d="M873 246h6v6h-6zM867 258h6v6h-6zM741 324h6v6h-6zM723 342h6v6h-6zM765 348h6v6h-6zM789 564h6v6h-6z"/>
<path fill="rgb(193,193,193)" d="M903 234h6v6h-6zM879 240h6v6h-6zM867 270h6v6h-6zM771 318h6v6h-6zM783 324h6v6h-6zM783 336h6v6h-6zM837 498h6v6h-6zM891 606h6v6h-6z"/>
<path fill="rgb(194,194,194)" d="M903 252h6v6h-6zM777 342h6v6h-6zM753 348h12v6h-12zM819 498h6v6h-6zM903 594h6v6h-6zM825 606h6v6h-6z"/>
<path fill="rgb(195,195,195)" d="M891 234h6v6h-6zM867 264h6v6h-6zM891 264h6v6h-6zM879 270h6v6h-6zM729 348h6v6h-6zM795 576h6v6h-6zM843 612h6v6h-6z"/>
<path fill="rgb(196,196,196)" d="M897 234h6v6h-6zM753 318h6v6h-6zM783 330h6v6h-6zM747 348h6v6h-6zM825 498h12v6h-12zM885 510h6v6h-6zM909 582h6v6h-6z"/>
<path fill="rgb(197,197,197)" d="M897 258h6v6h-6zM873 270h6v6h-6zM735 330h6v6h-6z"/>
<path fill="rgb(198,198,198)" d="M765 318h6v6h-6zM729 336h6v6h-6zM741 348h6v6h-6zM789 558h6v6h-6zM897 600h6v6h-6zM873 612h6v6h-6z"/>
<path fill="rgb(199,199,199)" d="M777 324h6v6h-6zM735 348h6v6h-6zM789 516h6v6h-6zM909 540h6v6h-6z"/>
<path fill="rgb(200,200,200)" d="M903 240h6v6h-6zM759 318h6v6h-6zM747 324h6v6h-6zM729 342h6v6h-6zM771 342h6v6h-6z"/>
<path fill="rgb(201,201,201)" d="M903 246h6v6h-6zM873 252h6v6h-6zM777 336h6v6h-6zM849 612h6v6h-6z"/>
<path fill="rgb(202,202,202)" d="M867 504h6v6h-6zM903 528h6v6h-6z"/>
<path fill="rgb(203,203,203)" d="M885 240h6v6h-6zM741 330h6v6h-6zM867 612h6v6h-6z"/>
<path fill="rgb(204,204,204)" d="M885 264h6v6h-6zM771 324h6v6h-6zM777 330h6v6h-6zM765 342h6v6h-6zM789 552h6v6h-6z"/>
<path fill="rgb(205,205,205)" d="M879 246h6v6h-6zM873 264h6v6h-6zM735 336h6v6h-6zM855 612h6v6h-6z"/>
<path fill="rgb(206,206,206)" d="M873 258h6v6h-6zM753 324h6v6h-6zM735 342h6v6h-6zM747 342h18v6h-18zM861 612h6v6h-6z"/>
<path fill="rgb(207,207,207)" d="M897 240h6v6h-6zM747 330h6v6h-6zM741 342h6v6h-6zM789 522h6v6h-6zM909 576h6v6h-6z"/>
<path fill="rgb(208,208,208)" d="M891 240h6v6h-6zM897 252h6v6h-6zM879 264h6v6h-6zM765 324h6v6h-6zM741 336h6v6h-6zM771 336h6v6h-6zM801 504h6v6h-6zM909 546h6v6h-6zM795 570h6v6h-6zM801 582h6v6h-6zM819 600h6v6h-6zM831 606h6v6h-6z"/>
<path fill="rgb(209,209,209)" d="M891 258h6v6h-6zM759 324h6v6h-6zM747 336h6v6h-6zM891 516h6v6h-6zM789 546h6v6h-6z"/>
<path fill="rgb(210,210,210)" d="M771 330h6v6h-6zM897 522h6v6h-6zM885 606h6v6h-6z"/>
<path fill="rgb(211,211,211)" d="M753 330h6v6h-6zM753 336h6v6h-6z"/>
<path fill="rgb(212,212,212)" d="M897 246h6v6h-6zM765 336h6v6h-6zM789 528h6v6h-6zM789 540h6v6h-6z"/>
<path fill="rgb(213,213,213)" d="M879 252h6v6h-6zM759 330h12v6h-12zM759 336h6v6h-6zM789 534h6v6h-6z"/>
<path fill="rgb(214,214,214)" d="M885 246h6v6h-6zM795 510h6v6h-6zM903 588h6v6h-6z"/>
<path fill="rgb(215,215,215)" d="M879 258h6v6h-6zM861 504h6v6h-6zM879 510h6v6h-6zM909 552h6v6h-6zM909 570h6v6h-6z"/>
<path fill="rgb(216,216,216)" d="M885 258h6v6h-6zM807 588h6v6h-6zM813 594h6v6h-6z"/>
<path fill="rgb(217,217,217)" d="M891 246h6v6h-6z"/>
<path fill="rgb(218,218,218)" d="M891 252h6v6h-6z"/>
<path fill="rgb(219,219,219)" d="M885 252h6v6h-6zM909 558h6v6h-6zM795 564h6v6h-6zM909 564h6v6h-6z"/>
<path fill="rgb(220,220,220)" d="M903 534h6v6h-6z"/>
<path fill="rgb(221,221,221)" d="M837 606h6v6h-6z"/>
<path fill="rgb(223,223,223)" d="M891 600h6v6h-6z"/>
<path fill="rgb(224,224,224)" d="M807 504h6v6h-6zM897 594h6v6h-6z"/>
<path fill="rgb(226,226,226)" d="M879 606h6v6h-6z"/>
<path fill="rgb(227,227,227)" d="M855 504h6v6h-6z"/>
<path fill="rgb(228,228,228)" d="M801 576h6v6h-6zM825 600h6v6h-6z"/>
<path fill="rgb(230,230,230)" d="M795 558h6v6h-6z"/>
<path fill="rgb(232,232,232)" d="M843 606h6v6h-6z"/>
<path fill="rgb(233,233,233)" d="M903 582h6v6h-6z"/>
<path fill="rgb(234,234,234)" d="M873 510h6v6h-6zM795 516h6v6h-6z"/>
<path fill="rgb(235,235,235)" d="M885 516h6v6h-6z"/>
<path fill="rgb(236,236,236)" d="M897 528h6v6h-6z"/>
<path fill="rgb(237,237,237)" d="M813 504h6v6h-6zM903 540h6v6h-6z"/>
<path fill="rgb(238,238,238)" d="M849 504h6v6h-6zM873 606h6v6h-6z"/>
<path fill="rgb(239,239,239)" d="M795 552h6v6h-6z"/>
<path fill="rgb(241,241,241)" d="M849 606h6v6h-6z"/>
<path fill="rgb(243,243,243)" d="M891 522h6v6h-6zM807 582h6v6h-6z"/>
<path fill="rgb(244,244,244)" d="M801 510h6v6h-6zM819 594h6v6h-6z"/>
<path fill="rgb(246,246,246)" d="M819 504h6v6h-6zM843 504h6v6h-6zM795 522h6v6h-6zM795 546h6v6h-6zM801 570h6v6h-6zM867 606h6v6h-6z"/>
<path fill="rgb(247,247,247)" d="M855 606h6v6h-6z"/>
<path fill="rgb(248,248,248)" d="M831 600h6v6h-6z"/>
<path fill="rgb(249,249,249)" d="M903 576h6v6h-6zM813 588h6v6h-6zM885 600h6v6h-6zM861 606h6v6h-6z"/>
<path fill="rgb(250,250,250)" d="M825 504h6v6h-6zM837 504h6v6h-6zM903 546h6v6h-6z"/>
<path fill="rgb(251,251,251)" d="M795 540h6v6h-6zM897 588h6v6h-6z"/>
<path fill="rgb(252,252,252)" d="M831 504h6v6h-6zM795 528h6v6h-6z"/>
<path fill="rgb(253,253,253)" d="M867 510h6v6h-6zM795 534h6v6h-6z"/>
<path fill="rgb(255,255,255)" d="M807 510h60v6h-60zM801 516h84v6h-84zM801 522h90v6h-90zM801 528h96v6h-96zM801 534h102v6h-102zM801 540h102v6h-102zM801 546h102v6h-102zM801 552h108v6h-108zM801 558h108v6h-108zM801 564h108v6h-108zM807 570h102v6h-102zM807 576h96v6h-96zM813 582h90v6h-90zM819 588h78v6h-78zM825 594h72v6h-72zM837 600h48v6h-48z"/>
</g>
<path d="M728.8 238.0L1085.6 331.5M745.2 256.8L1064.9 652.3M753.8 280.7L652.6 85.7M749.2 304.2L652.7 84.0M735.4 324.3L952.4 444.4M728.5 346.9L1085.7 255.7M734.2 369.7L1078.6 155.6M749.9 387.3L1083.1 250.2M769.4 401.3L532.0 357.4M782.6 420.3L538.6 283.8M777.9 443.7L531.4 473.6M767.9 466.0L531.6 433.5M756.3 487.9L816.9 558.5M748.1 512.0L591.7 519.9M742.7 535.3L531.0 530.3M739.0 559.0L531.0 562.1M739.0 583.1L700.2 576.9M745.0 605.3L533.4 667.4M756.3 625.9L536.4 725.8M770.7 645.0L538.3 771.7M788.0 661.0L673.8 804.9M807.4 676.1L976.8 791.7M829.9 684.9L638.2 785.9M854.3 689.6L839.6 79.0M874.9 676.0L890.8 817.5M881.3 652.7L856.7 817.2" stroke="#00ffff" stroke-width="6.9" fill="none"/>
<path d="M965.6 451.7L946.5 449.4L953.5 436.8zM826.7 570.0L809.6 561.2L820.6 551.8zM576.6 520.7L594.0 512.6L594.7 527.0zM685.3 574.5L704.0 570.2L701.7 584.4z" fill="#00ffff"/>
<path d="M822.2 160.5C822.9 162.8 825.6 170.9 826.4 174.5C827.2 178.1 827.0 178.7 826.8 181.9C826.5 185.1 825.9 189.5 824.9 193.7C823.9 197.9 822.4 202.1 820.5 207.0C818.6 211.9 816.1 217.9 813.8 223.3C811.4 228.7 808.8 234.2 806.4 239.5C804.0 244.8 801.5 250.1 799.1 255.0C796.7 259.9 794.2 264.9 791.7 269.0C789.2 273.1 787.2 275.9 784.3 279.4C781.3 282.8 777.7 286.5 774.0 289.7C770.3 292.9 766.2 296.1 762.1 298.5C758.0 300.9 753.7 299.9 749.2 304.2C744.8 308.5 738.9 317.2 735.4 324.3C731.9 331.4 728.7 339.3 728.5 346.9C728.3 354.5 730.6 363.0 734.2 369.7C737.8 376.4 744.0 382.0 749.9 387.3C755.8 392.6 763.9 395.8 769.4 401.3C774.9 406.8 781.2 413.2 782.6 420.3C784.0 427.4 780.4 436.1 777.9 443.7C775.4 451.3 771.5 458.6 767.9 466.0C764.3 473.4 759.6 480.2 756.3 487.9C753.0 495.6 750.4 504.1 748.1 512.0C745.8 519.9 744.2 527.5 742.7 535.3C741.2 543.1 739.6 551.0 739.0 559.0C738.4 567.0 738.0 575.4 739.0 583.1C740.0 590.8 742.1 598.2 745.0 605.3C747.9 612.4 752.0 619.3 756.3 625.9C760.6 632.5 765.4 639.1 770.7 645.0C776.0 650.9 781.9 655.8 788.0 661.0C794.1 666.2 800.4 672.1 807.4 676.1C814.4 680.1 822.1 682.6 829.9 684.9C837.7 687.1 845.9 687.7 854.3 689.6C862.6 691.5 871.1 694.2 880.0 696.5C888.9 698.8 900.4 701.3 907.4 703.5C914.4 705.7 917.7 707.1 922.0 709.5C926.3 711.9 929.9 715.0 933.0 718.0C936.1 721.0 938.4 723.7 940.4 727.4C942.4 731.1 943.6 734.9 945.0 740.0C946.4 745.1 947.8 752.1 948.6 757.9C949.4 763.7 949.8 772.1 950.0 775.0" stroke="#000" stroke-width="11" fill="none" stroke-linejoin="round"/>
<path d="M822.2 160.5C822.9 162.8 825.6 170.9 826.4 174.5C827.2 178.1 827.0 178.7 826.8 181.9C826.5 185.1 825.9 189.5 824.9 193.7C823.9 197.9 822.4 202.1 820.5 207.0C818.6 211.9 816.1 217.9 813.8 223.3C811.4 228.7 808.8 234.2 806.4 239.5C804.0 244.8 801.5 250.1 799.1 255.0C796.7 259.9 794.2 264.9 791.7 269.0C789.2 273.1 787.2 275.9 784.3 279.4C781.3 282.8 777.7 286.5 774.0 289.7C770.3 292.9 766.2 296.1 762.1 298.5C758.0 300.9 753.7 299.9 749.2 304.2C744.8 308.5 738.9 317.2 735.4 324.3C731.9 331.4 728.7 339.3 728.5 346.9C728.3 354.5 730.6 363.0 734.2 369.7C737.8 376.4 744.0 382.0 749.9 387.3C755.8 392.6 763.9 395.8 769.4 401.3C774.9 406.8 781.2 413.2 782.6 420.3C784.0 427.4 780.4 436.1 777.9 443.7C775.4 451.3 771.5 458.6 767.9 466.0C764.3 473.4 759.6 480.2 756.3 487.9C753.0 495.6 750.4 504.1 748.1 512.0C745.8 519.9 744.2 527.5 742.7 535.3C741.2 543.1 739.6 551.0 739.0 559.0C738.4 567.0 738.0 575.4 739.0 583.1C740.0 590.8 742.1 598.2 745.0 605.3C747.9 612.4 752.0 619.3 756.3 625.9C760.6 632.5 765.4 639.1 770.7 645.0C776.0 650.9 781.9 655.8 788.0 661.0C794.1 666.2 800.4 672.1 807.4 676.1C814.4 680.1 822.1 682.6 829.9 684.9C837.7 687.1 845.9 687.7 854.3 689.6C862.6 691.5 871.1 694.2 880.0 696.5C888.9 698.8 900.4 701.3 907.4 703.5C914.4 705.7 917.7 707.1 922.0 709.5C926.3 711.9 929.9 715.0 933.0 718.0C936.1 721.0 938.4 723.7 940.4 727.4C942.4 731.1 943.6 734.9 945.0 740.0C946.4 745.1 947.8 752.1 948.6 757.9C949.4 763.7 949.8 772.1 950.0 775.0" stroke="#008000" stroke-width="5.6" fill="none" stroke-linejoin="round"/>
<path d="M723.2 233.5C724.2 234.2 725.1 234.1 728.8 238.0C732.4 241.9 741.0 249.7 745.2 256.8C749.4 263.9 753.1 272.8 753.8 280.7C754.4 288.6 752.3 296.9 749.2 304.2C746.1 311.5 738.9 317.2 735.4 324.3C731.9 331.4 728.7 339.3 728.5 346.9C728.3 354.5 730.6 363.0 734.2 369.7C737.8 376.4 744.0 382.0 749.9 387.3C755.8 392.6 763.9 395.8 769.4 401.3C774.9 406.8 781.2 413.2 782.6 420.3C784.0 427.4 780.4 436.1 777.9 443.7C775.4 451.3 771.5 458.6 767.9 466.0C764.3 473.4 759.6 480.2 756.3 487.9C753.0 495.6 750.4 504.1 748.1 512.0C745.8 519.9 744.2 527.5 742.7 535.3C741.2 543.1 739.6 551.0 739.0 559.0C738.4 567.0 738.0 575.4 739.0 583.1C740.0 590.8 742.1 598.2 745.0 605.3C747.9 612.4 752.0 619.3 756.3 625.9C760.6 632.5 765.4 639.1 770.7 645.0C776.0 650.9 781.9 655.8 788.0 661.0C794.1 666.2 800.4 672.1 807.4 676.1C814.4 680.1 822.1 682.6 829.9 684.9C837.7 687.1 846.8 691.1 854.3 689.6C861.8 688.1 870.4 682.1 874.9 676.0C879.4 669.9 880.0 657.4 881.3 652.7C882.5 648.0 882.2 648.5 882.4 647.6" stroke="#ff0000" stroke-width="6.1" fill="none"/>
<ellipse cx="723.25" cy="233.5" rx="68.2" ry="63.4" stroke="#ff00ff" stroke-width="5.4" fill="none"/>
<ellipse cx="882.3" cy="647.8" rx="65.6" ry="63.2" stroke="#daa520" stroke-width="5.4" fill="none"/>
<circle cx="723.25" cy="233.5" r="8.9" fill="#ff00ff"/>
<circle cx="882.4" cy="647.6" r="8.9" fill="#daa520"/>
<g fill="#00ffff"><circle cx="728.8" cy="238.0" r="8.9"/><circle cx="745.2" cy="256.8" r="8.9"/><circle cx="753.8" cy="280.7" r="8.9"/><circle cx="749.2" cy="304.2" r="8.9"/><circle cx="735.4" cy="324.3" r="8.9"/><circle cx="728.5" cy="346.9" r="8.9"/><circle cx="734.2" cy="369.7" r="8.9"/><circle cx="749.9" cy="387.3" r="8.9"/><circle cx="769.4" cy="401.3" r="8.9"/><circle cx="782.6" cy="420.3" r="8.9"/><circle cx="777.9" cy="443.7" r="8.9"/><circle cx="767.9" cy="466.0" r="8.9"/><circle cx="756.3" cy="487.9" r="8.9"/><circle cx="748.1" cy="512.0" r="8.9"/><circle cx="742.7" cy="535.3" r="8.9"/><circle cx="739.0" cy="559.0" r="8.9"/><circle cx="739.0" cy="583.1" r="8.9"/><circle cx="745.0" cy="605.3" r="8.9"/><circle cx="756.3" cy="625.9" r="8.9"/><circle cx="770.7" cy="645.0" r="8.9"/><circle cx="788.0" cy="661.0" r="8.9"/><circle cx="807.4" cy="676.1" r="8.9"/><circle cx="829.9" cy="684.9" r="8.9"/><circle cx="854.3" cy="689.6" r="8.9"/><circle cx="874.9" cy="676.0" r="8.9"/><circle cx="881.3" cy="652.7" r="8.9"/></g>
</g>
<rect x="591" y="138" width="437" height="621" fill="none" stroke="#000" stroke-width="2.1"/>
<rect x="336" y="892" width="947" height="48" fill="url(#cb)" stroke="#000" stroke-width="2.1"/>
<path d="M582 176.0H591M582 249.0H591M582 322.0H591M582 395.0H591M582 467.0H591M582 540.0H591M582 613.0H591M582 686.0H591M582 759.0H591M591.0 759V767.7M682.0 759V767.7M773.0 759V767.7M864.0 759V767.7M955.0 759V767.7M431.0 940V948.7M620.0 940V948.7M809.0 940V948.7M999.0 940V948.7M1188.0 940V948.7" stroke="#000" stroke-width="2" fill="none"/>
<text x="339.1" y="122.3" font-size="33.2" textLength="99.3" lengthAdjust="spacingAndGlyphs" text-anchor="start" >Active</text>
<text x="447.3" y="122.3" font-size="33.2" textLength="111.2" lengthAdjust="spacingAndGlyphs" text-anchor="start" >Region</text>
<text x="568.3" y="122.3" font-size="33.2" textLength="18.3" lengthAdjust="spacingAndGlyphs" text-anchor="start" >1</text>
<text x="597.8" y="122.3" font-size="33.2" textLength="83.6" lengthAdjust="spacingAndGlyphs" text-anchor="start" >RBSL</text>
<text x="690.3" y="122.3" font-size="33.2" textLength="72.7" lengthAdjust="spacingAndGlyphs" text-anchor="start" >path</text>
<text x="774.7" y="122.3" font-size="33.2" textLength="66.5" lengthAdjust="spacingAndGlyphs" text-anchor="start" >with</text>
<text x="850.7" y="122.3" font-size="33.2" textLength="41.9" lengthAdjust="spacingAndGlyphs" text-anchor="start" >NL</text>
<text x="902.4" y="122.3" font-size="33.2" textLength="60.1" lengthAdjust="spacingAndGlyphs" text-anchor="start" >and</text>
<text x="972.7" y="122.3" font-size="33.2" textLength="149.5" lengthAdjust="spacingAndGlyphs" text-anchor="start" >Footpoint</text>
<text x="1132.8" y="122.3" font-size="33.2" textLength="148.4" lengthAdjust="spacingAndGlyphs" text-anchor="start" >Selection</text>
<text x="514.1" y="185.9" font-size="28.2" textLength="58.2" lengthAdjust="spacingAndGlyphs" text-anchor="start" >1.18</text>
<text x="513.4" y="258.8" font-size="28.2" textLength="58.8" lengthAdjust="spacingAndGlyphs" text-anchor="start" >1.20</text>
<text x="514.0" y="331.7" font-size="28.2" textLength="58.5" lengthAdjust="spacingAndGlyphs" text-anchor="start" >1.22</text>
<text x="513.8" y="404.6" font-size="28.2" textLength="58.0" lengthAdjust="spacingAndGlyphs" text-anchor="start" >1.24</text>
<text x="514.1" y="477.5" font-size="28.2" textLength="58.3" lengthAdjust="spacingAndGlyphs" text-anchor="start" >1.26</text>
<text x="514.1" y="550.4" font-size="28.2" textLength="58.2" lengthAdjust="spacingAndGlyphs" text-anchor="start" >1.28</text>
<text x="513.4" y="623.3" font-size="28.2" textLength="58.8" lengthAdjust="spacingAndGlyphs" text-anchor="start" >1.30</text>
<text x="514.0" y="696.2" font-size="28.2" textLength="58.5" lengthAdjust="spacingAndGlyphs" text-anchor="start" >1.32</text>
<text x="513.8" y="769.1" font-size="28.2" textLength="58.0" lengthAdjust="spacingAndGlyphs" text-anchor="start" >1.34</text>
<text x="552.8" y="798.0" font-size="28.2" textLength="76.2" lengthAdjust="spacingAndGlyphs" text-anchor="start" >3.800</text>
<text x="644.0" y="798.0" font-size="28.2" textLength="76.0" lengthAdjust="spacingAndGlyphs" text-anchor="start" >3.825</text>
<text x="734.9" y="798.0" font-size="28.2" textLength="76.5" lengthAdjust="spacingAndGlyphs" text-anchor="start" >3.850</text>
<text x="825.9" y="798.0" font-size="28.2" textLength="76.3" lengthAdjust="spacingAndGlyphs" text-anchor="start" >3.875</text>
<text x="916.9" y="798.0" font-size="28.2" textLength="76.6" lengthAdjust="spacingAndGlyphs" text-anchor="start" >3.900</text>
<text x="788.9" y="835.1" font-size="27.8" textLength="40.0" lengthAdjust="spacingAndGlyphs" text-anchor="start" >Phi</text>
<text x="395.7" y="978.0" font-size="28.2" textLength="72.3" lengthAdjust="spacingAndGlyphs" text-anchor="start" >−400</text>
<text x="584.9" y="978.0" font-size="28.2" textLength="70.8" lengthAdjust="spacingAndGlyphs" text-anchor="start" >−200</text>
<text x="802.0" y="978.0" font-size="28.2" textLength="17.1" lengthAdjust="spacingAndGlyphs" text-anchor="start" >0</text>
<text x="972.7" y="978.0" font-size="28.2" textLength="51.1" lengthAdjust="spacingAndGlyphs" text-anchor="start" >200</text>
<text x="1162.8" y="978.0" font-size="28.2" textLength="50.1" lengthAdjust="spacingAndGlyphs" text-anchor="start" >400</text>
<text x="767.9" y="1015.2" font-size="27.8" textLength="82.3" lengthAdjust="spacingAndGlyphs" text-anchor="start" >Gauss</text>
<g transform="translate(495.4 487.5) rotate(-90)"><text x="0.0" y="0.0" font-size="27.8" textLength="74.0" lengthAdjust="spacingAndGlyphs" text-anchor="start" >Theta</text></g>
</svg>
</body></html>
